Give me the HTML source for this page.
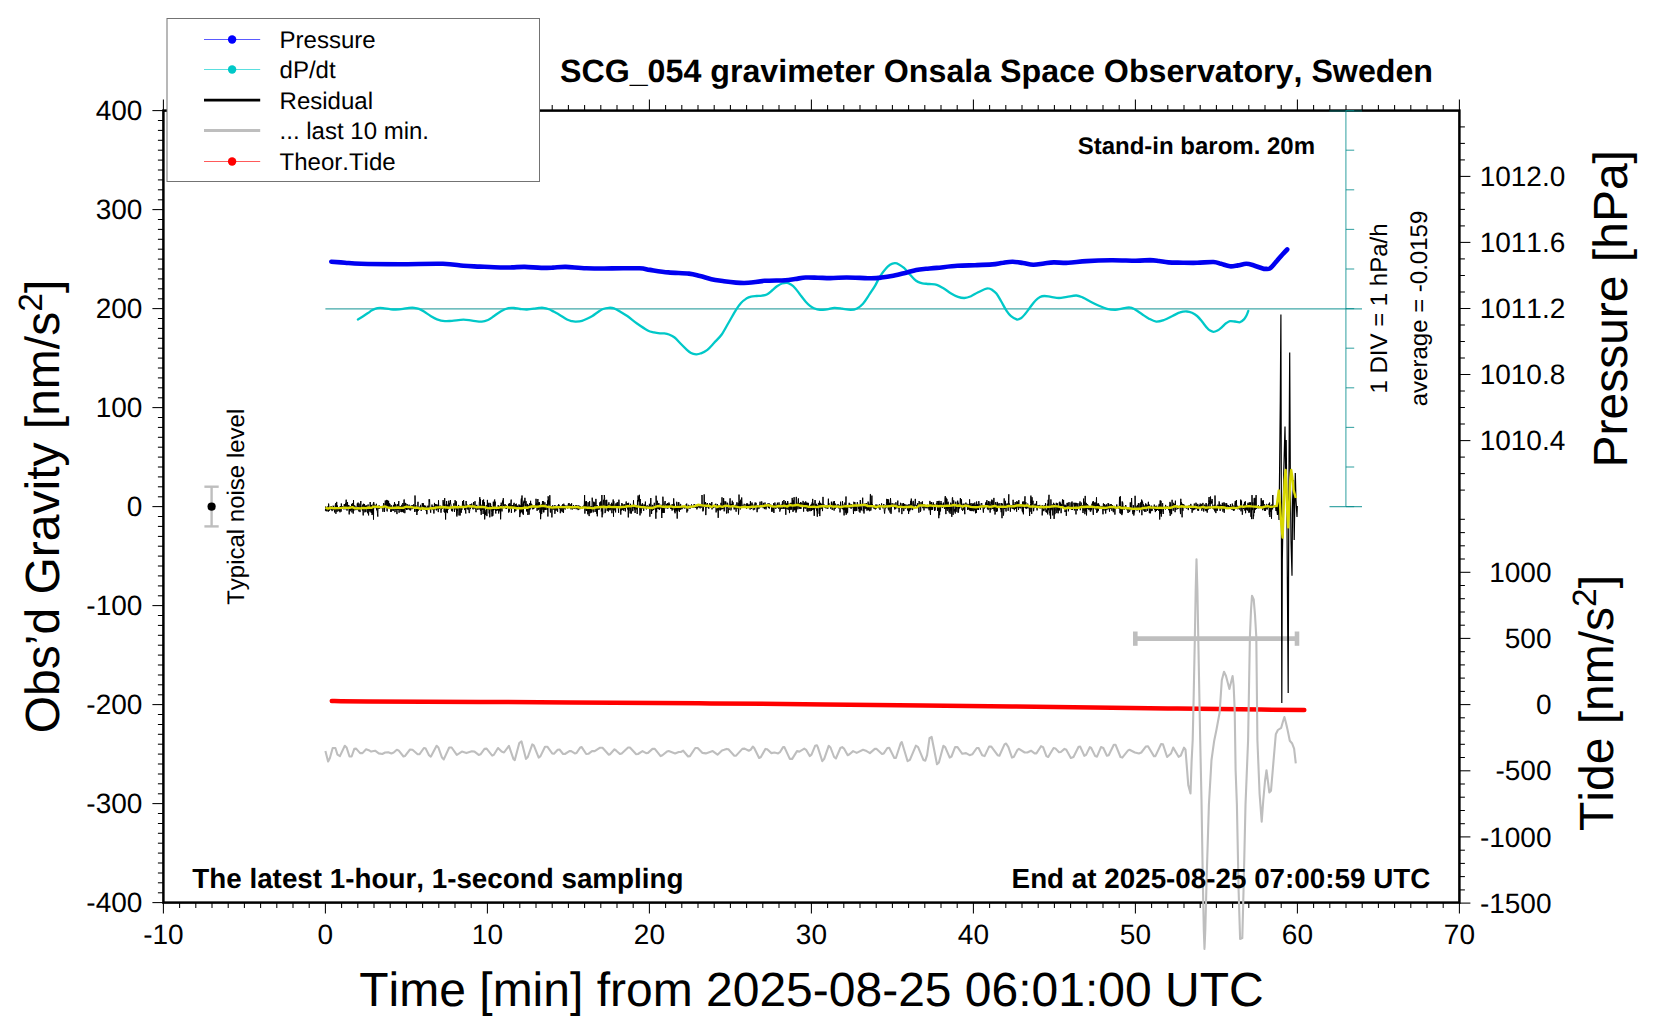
<!DOCTYPE html>
<html><head><meta charset="utf-8"><title>SCG_054 gravimeter</title>
<style>html,body{margin:0;padding:0;background:#fff}svg{display:block}text{font-family:"Liberation Sans",sans-serif;fill:#000;font-kerning:none;text-rendering:geometricPrecision}.b{font-weight:bold}</style></head><body>
<svg width="1660" height="1020" viewBox="0 0 1660 1020">
<rect width="1660" height="1020" fill="#fff"/>
<g stroke="#000" fill="none">
<rect x="163.4" y="110.6" width="1296" height="792" stroke-width="2.5"/>
</g><g stroke="#000" stroke-width="1.05" fill="none">
<line x1="163.4" y1="902.6" x2="163.4" y2="913.6"/>
<line x1="163.4" y1="110.6" x2="163.4" y2="99.6"/>
<line x1="179.6" y1="902.6" x2="179.6" y2="908.1"/>
<line x1="179.6" y1="110.6" x2="179.6" y2="105.1"/>
<line x1="195.8" y1="902.6" x2="195.8" y2="908.1"/>
<line x1="195.8" y1="110.6" x2="195.8" y2="105.1"/>
<line x1="212" y1="902.6" x2="212" y2="908.1"/>
<line x1="212" y1="110.6" x2="212" y2="105.1"/>
<line x1="228.2" y1="902.6" x2="228.2" y2="908.1"/>
<line x1="228.2" y1="110.6" x2="228.2" y2="105.1"/>
<line x1="244.4" y1="902.6" x2="244.4" y2="908.1"/>
<line x1="244.4" y1="110.6" x2="244.4" y2="105.1"/>
<line x1="260.6" y1="902.6" x2="260.6" y2="908.1"/>
<line x1="260.6" y1="110.6" x2="260.6" y2="105.1"/>
<line x1="276.8" y1="902.6" x2="276.8" y2="908.1"/>
<line x1="276.8" y1="110.6" x2="276.8" y2="105.1"/>
<line x1="293" y1="902.6" x2="293" y2="908.1"/>
<line x1="293" y1="110.6" x2="293" y2="105.1"/>
<line x1="309.2" y1="902.6" x2="309.2" y2="908.1"/>
<line x1="309.2" y1="110.6" x2="309.2" y2="105.1"/>
<line x1="325.4" y1="902.6" x2="325.4" y2="913.6"/>
<line x1="325.4" y1="110.6" x2="325.4" y2="99.6"/>
<line x1="341.6" y1="902.6" x2="341.6" y2="908.1"/>
<line x1="341.6" y1="110.6" x2="341.6" y2="105.1"/>
<line x1="357.8" y1="902.6" x2="357.8" y2="908.1"/>
<line x1="357.8" y1="110.6" x2="357.8" y2="105.1"/>
<line x1="374" y1="902.6" x2="374" y2="908.1"/>
<line x1="374" y1="110.6" x2="374" y2="105.1"/>
<line x1="390.2" y1="902.6" x2="390.2" y2="908.1"/>
<line x1="390.2" y1="110.6" x2="390.2" y2="105.1"/>
<line x1="406.4" y1="902.6" x2="406.4" y2="908.1"/>
<line x1="406.4" y1="110.6" x2="406.4" y2="105.1"/>
<line x1="422.6" y1="902.6" x2="422.6" y2="908.1"/>
<line x1="422.6" y1="110.6" x2="422.6" y2="105.1"/>
<line x1="438.8" y1="902.6" x2="438.8" y2="908.1"/>
<line x1="438.8" y1="110.6" x2="438.8" y2="105.1"/>
<line x1="455" y1="902.6" x2="455" y2="908.1"/>
<line x1="455" y1="110.6" x2="455" y2="105.1"/>
<line x1="471.2" y1="902.6" x2="471.2" y2="908.1"/>
<line x1="471.2" y1="110.6" x2="471.2" y2="105.1"/>
<line x1="487.4" y1="902.6" x2="487.4" y2="913.6"/>
<line x1="487.4" y1="110.6" x2="487.4" y2="99.6"/>
<line x1="503.6" y1="902.6" x2="503.6" y2="908.1"/>
<line x1="503.6" y1="110.6" x2="503.6" y2="105.1"/>
<line x1="519.8" y1="902.6" x2="519.8" y2="908.1"/>
<line x1="519.8" y1="110.6" x2="519.8" y2="105.1"/>
<line x1="536" y1="902.6" x2="536" y2="908.1"/>
<line x1="536" y1="110.6" x2="536" y2="105.1"/>
<line x1="552.2" y1="902.6" x2="552.2" y2="908.1"/>
<line x1="552.2" y1="110.6" x2="552.2" y2="105.1"/>
<line x1="568.4" y1="902.6" x2="568.4" y2="908.1"/>
<line x1="568.4" y1="110.6" x2="568.4" y2="105.1"/>
<line x1="584.6" y1="902.6" x2="584.6" y2="908.1"/>
<line x1="584.6" y1="110.6" x2="584.6" y2="105.1"/>
<line x1="600.8" y1="902.6" x2="600.8" y2="908.1"/>
<line x1="600.8" y1="110.6" x2="600.8" y2="105.1"/>
<line x1="617" y1="902.6" x2="617" y2="908.1"/>
<line x1="617" y1="110.6" x2="617" y2="105.1"/>
<line x1="633.2" y1="902.6" x2="633.2" y2="908.1"/>
<line x1="633.2" y1="110.6" x2="633.2" y2="105.1"/>
<line x1="649.4" y1="902.6" x2="649.4" y2="913.6"/>
<line x1="649.4" y1="110.6" x2="649.4" y2="99.6"/>
<line x1="665.6" y1="902.6" x2="665.6" y2="908.1"/>
<line x1="665.6" y1="110.6" x2="665.6" y2="105.1"/>
<line x1="681.8" y1="902.6" x2="681.8" y2="908.1"/>
<line x1="681.8" y1="110.6" x2="681.8" y2="105.1"/>
<line x1="698" y1="902.6" x2="698" y2="908.1"/>
<line x1="698" y1="110.6" x2="698" y2="105.1"/>
<line x1="714.2" y1="902.6" x2="714.2" y2="908.1"/>
<line x1="714.2" y1="110.6" x2="714.2" y2="105.1"/>
<line x1="730.4" y1="902.6" x2="730.4" y2="908.1"/>
<line x1="730.4" y1="110.6" x2="730.4" y2="105.1"/>
<line x1="746.6" y1="902.6" x2="746.6" y2="908.1"/>
<line x1="746.6" y1="110.6" x2="746.6" y2="105.1"/>
<line x1="762.8" y1="902.6" x2="762.8" y2="908.1"/>
<line x1="762.8" y1="110.6" x2="762.8" y2="105.1"/>
<line x1="779" y1="902.6" x2="779" y2="908.1"/>
<line x1="779" y1="110.6" x2="779" y2="105.1"/>
<line x1="795.2" y1="902.6" x2="795.2" y2="908.1"/>
<line x1="795.2" y1="110.6" x2="795.2" y2="105.1"/>
<line x1="811.4" y1="902.6" x2="811.4" y2="913.6"/>
<line x1="811.4" y1="110.6" x2="811.4" y2="99.6"/>
<line x1="827.6" y1="902.6" x2="827.6" y2="908.1"/>
<line x1="827.6" y1="110.6" x2="827.6" y2="105.1"/>
<line x1="843.8" y1="902.6" x2="843.8" y2="908.1"/>
<line x1="843.8" y1="110.6" x2="843.8" y2="105.1"/>
<line x1="860" y1="902.6" x2="860" y2="908.1"/>
<line x1="860" y1="110.6" x2="860" y2="105.1"/>
<line x1="876.2" y1="902.6" x2="876.2" y2="908.1"/>
<line x1="876.2" y1="110.6" x2="876.2" y2="105.1"/>
<line x1="892.4" y1="902.6" x2="892.4" y2="908.1"/>
<line x1="892.4" y1="110.6" x2="892.4" y2="105.1"/>
<line x1="908.6" y1="902.6" x2="908.6" y2="908.1"/>
<line x1="908.6" y1="110.6" x2="908.6" y2="105.1"/>
<line x1="924.8" y1="902.6" x2="924.8" y2="908.1"/>
<line x1="924.8" y1="110.6" x2="924.8" y2="105.1"/>
<line x1="941" y1="902.6" x2="941" y2="908.1"/>
<line x1="941" y1="110.6" x2="941" y2="105.1"/>
<line x1="957.2" y1="902.6" x2="957.2" y2="908.1"/>
<line x1="957.2" y1="110.6" x2="957.2" y2="105.1"/>
<line x1="973.4" y1="902.6" x2="973.4" y2="913.6"/>
<line x1="973.4" y1="110.6" x2="973.4" y2="99.6"/>
<line x1="989.6" y1="902.6" x2="989.6" y2="908.1"/>
<line x1="989.6" y1="110.6" x2="989.6" y2="105.1"/>
<line x1="1005.8" y1="902.6" x2="1005.8" y2="908.1"/>
<line x1="1005.8" y1="110.6" x2="1005.8" y2="105.1"/>
<line x1="1022" y1="902.6" x2="1022" y2="908.1"/>
<line x1="1022" y1="110.6" x2="1022" y2="105.1"/>
<line x1="1038.2" y1="902.6" x2="1038.2" y2="908.1"/>
<line x1="1038.2" y1="110.6" x2="1038.2" y2="105.1"/>
<line x1="1054.4" y1="902.6" x2="1054.4" y2="908.1"/>
<line x1="1054.4" y1="110.6" x2="1054.4" y2="105.1"/>
<line x1="1070.6" y1="902.6" x2="1070.6" y2="908.1"/>
<line x1="1070.6" y1="110.6" x2="1070.6" y2="105.1"/>
<line x1="1086.8" y1="902.6" x2="1086.8" y2="908.1"/>
<line x1="1086.8" y1="110.6" x2="1086.8" y2="105.1"/>
<line x1="1103" y1="902.6" x2="1103" y2="908.1"/>
<line x1="1103" y1="110.6" x2="1103" y2="105.1"/>
<line x1="1119.2" y1="902.6" x2="1119.2" y2="908.1"/>
<line x1="1119.2" y1="110.6" x2="1119.2" y2="105.1"/>
<line x1="1135.4" y1="902.6" x2="1135.4" y2="913.6"/>
<line x1="1135.4" y1="110.6" x2="1135.4" y2="99.6"/>
<line x1="1151.6" y1="902.6" x2="1151.6" y2="908.1"/>
<line x1="1151.6" y1="110.6" x2="1151.6" y2="105.1"/>
<line x1="1167.8" y1="902.6" x2="1167.8" y2="908.1"/>
<line x1="1167.8" y1="110.6" x2="1167.8" y2="105.1"/>
<line x1="1184" y1="902.6" x2="1184" y2="908.1"/>
<line x1="1184" y1="110.6" x2="1184" y2="105.1"/>
<line x1="1200.2" y1="902.6" x2="1200.2" y2="908.1"/>
<line x1="1200.2" y1="110.6" x2="1200.2" y2="105.1"/>
<line x1="1216.4" y1="902.6" x2="1216.4" y2="908.1"/>
<line x1="1216.4" y1="110.6" x2="1216.4" y2="105.1"/>
<line x1="1232.6" y1="902.6" x2="1232.6" y2="908.1"/>
<line x1="1232.6" y1="110.6" x2="1232.6" y2="105.1"/>
<line x1="1248.8" y1="902.6" x2="1248.8" y2="908.1"/>
<line x1="1248.8" y1="110.6" x2="1248.8" y2="105.1"/>
<line x1="1265" y1="902.6" x2="1265" y2="908.1"/>
<line x1="1265" y1="110.6" x2="1265" y2="105.1"/>
<line x1="1281.2" y1="902.6" x2="1281.2" y2="908.1"/>
<line x1="1281.2" y1="110.6" x2="1281.2" y2="105.1"/>
<line x1="1297.4" y1="902.6" x2="1297.4" y2="913.6"/>
<line x1="1297.4" y1="110.6" x2="1297.4" y2="99.6"/>
<line x1="1313.6" y1="902.6" x2="1313.6" y2="908.1"/>
<line x1="1313.6" y1="110.6" x2="1313.6" y2="105.1"/>
<line x1="1329.8" y1="902.6" x2="1329.8" y2="908.1"/>
<line x1="1329.8" y1="110.6" x2="1329.8" y2="105.1"/>
<line x1="1346" y1="902.6" x2="1346" y2="908.1"/>
<line x1="1346" y1="110.6" x2="1346" y2="105.1"/>
<line x1="1362.2" y1="902.6" x2="1362.2" y2="908.1"/>
<line x1="1362.2" y1="110.6" x2="1362.2" y2="105.1"/>
<line x1="1378.4" y1="902.6" x2="1378.4" y2="908.1"/>
<line x1="1378.4" y1="110.6" x2="1378.4" y2="105.1"/>
<line x1="1394.6" y1="902.6" x2="1394.6" y2="908.1"/>
<line x1="1394.6" y1="110.6" x2="1394.6" y2="105.1"/>
<line x1="1410.8" y1="902.6" x2="1410.8" y2="908.1"/>
<line x1="1410.8" y1="110.6" x2="1410.8" y2="105.1"/>
<line x1="1427" y1="902.6" x2="1427" y2="908.1"/>
<line x1="1427" y1="110.6" x2="1427" y2="105.1"/>
<line x1="1443.2" y1="902.6" x2="1443.2" y2="908.1"/>
<line x1="1443.2" y1="110.6" x2="1443.2" y2="105.1"/>
<line x1="1459.4" y1="902.6" x2="1459.4" y2="913.6"/>
<line x1="1459.4" y1="110.6" x2="1459.4" y2="99.6"/>
<line x1="163.4" y1="902.6" x2="152.4" y2="902.6"/>
<line x1="163.4" y1="892.8" x2="157.9" y2="892.8"/>
<line x1="163.4" y1="882.8" x2="157.9" y2="882.8"/>
<line x1="163.4" y1="873" x2="157.9" y2="873"/>
<line x1="163.4" y1="863" x2="157.9" y2="863"/>
<line x1="163.4" y1="853.1" x2="157.9" y2="853.1"/>
<line x1="163.4" y1="843.2" x2="157.9" y2="843.2"/>
<line x1="163.4" y1="833.3" x2="157.9" y2="833.3"/>
<line x1="163.4" y1="823.5" x2="157.9" y2="823.5"/>
<line x1="163.4" y1="813.5" x2="157.9" y2="813.5"/>
<line x1="163.4" y1="803.6" x2="152.4" y2="803.6"/>
<line x1="163.4" y1="793.8" x2="157.9" y2="793.8"/>
<line x1="163.4" y1="783.8" x2="157.9" y2="783.8"/>
<line x1="163.4" y1="774" x2="157.9" y2="774"/>
<line x1="163.4" y1="764" x2="157.9" y2="764"/>
<line x1="163.4" y1="754.1" x2="157.9" y2="754.1"/>
<line x1="163.4" y1="744.2" x2="157.9" y2="744.2"/>
<line x1="163.4" y1="734.3" x2="157.9" y2="734.3"/>
<line x1="163.4" y1="724.5" x2="157.9" y2="724.5"/>
<line x1="163.4" y1="714.5" x2="157.9" y2="714.5"/>
<line x1="163.4" y1="704.6" x2="152.4" y2="704.6"/>
<line x1="163.4" y1="694.8" x2="157.9" y2="694.8"/>
<line x1="163.4" y1="684.8" x2="157.9" y2="684.8"/>
<line x1="163.4" y1="675" x2="157.9" y2="675"/>
<line x1="163.4" y1="665" x2="157.9" y2="665"/>
<line x1="163.4" y1="655.1" x2="157.9" y2="655.1"/>
<line x1="163.4" y1="645.2" x2="157.9" y2="645.2"/>
<line x1="163.4" y1="635.3" x2="157.9" y2="635.3"/>
<line x1="163.4" y1="625.4" x2="157.9" y2="625.4"/>
<line x1="163.4" y1="615.5" x2="157.9" y2="615.5"/>
<line x1="163.4" y1="605.6" x2="152.4" y2="605.6"/>
<line x1="163.4" y1="595.8" x2="157.9" y2="595.8"/>
<line x1="163.4" y1="585.9" x2="157.9" y2="585.9"/>
<line x1="163.4" y1="575.9" x2="157.9" y2="575.9"/>
<line x1="163.4" y1="566" x2="157.9" y2="566"/>
<line x1="163.4" y1="556.1" x2="157.9" y2="556.1"/>
<line x1="163.4" y1="546.2" x2="157.9" y2="546.2"/>
<line x1="163.4" y1="536.4" x2="157.9" y2="536.4"/>
<line x1="163.4" y1="526.4" x2="157.9" y2="526.4"/>
<line x1="163.4" y1="516.5" x2="157.9" y2="516.5"/>
<line x1="163.4" y1="506.6" x2="152.4" y2="506.6"/>
<line x1="163.4" y1="496.8" x2="157.9" y2="496.8"/>
<line x1="163.4" y1="486.8" x2="157.9" y2="486.8"/>
<line x1="163.4" y1="476.9" x2="157.9" y2="476.9"/>
<line x1="163.4" y1="467" x2="157.9" y2="467"/>
<line x1="163.4" y1="457.1" x2="157.9" y2="457.1"/>
<line x1="163.4" y1="447.2" x2="157.9" y2="447.2"/>
<line x1="163.4" y1="437.3" x2="157.9" y2="437.3"/>
<line x1="163.4" y1="427.4" x2="157.9" y2="427.4"/>
<line x1="163.4" y1="417.5" x2="157.9" y2="417.5"/>
<line x1="163.4" y1="407.6" x2="152.4" y2="407.6"/>
<line x1="163.4" y1="397.8" x2="157.9" y2="397.8"/>
<line x1="163.4" y1="387.8" x2="157.9" y2="387.8"/>
<line x1="163.4" y1="377.9" x2="157.9" y2="377.9"/>
<line x1="163.4" y1="368" x2="157.9" y2="368"/>
<line x1="163.4" y1="358.1" x2="157.9" y2="358.1"/>
<line x1="163.4" y1="348.2" x2="157.9" y2="348.2"/>
<line x1="163.4" y1="338.3" x2="157.9" y2="338.3"/>
<line x1="163.4" y1="328.4" x2="157.9" y2="328.4"/>
<line x1="163.4" y1="318.5" x2="157.9" y2="318.5"/>
<line x1="163.4" y1="308.6" x2="152.4" y2="308.6"/>
<line x1="163.4" y1="298.8" x2="157.9" y2="298.8"/>
<line x1="163.4" y1="288.8" x2="157.9" y2="288.8"/>
<line x1="163.4" y1="278.9" x2="157.9" y2="278.9"/>
<line x1="163.4" y1="269" x2="157.9" y2="269"/>
<line x1="163.4" y1="259.1" x2="157.9" y2="259.1"/>
<line x1="163.4" y1="249.2" x2="157.9" y2="249.2"/>
<line x1="163.4" y1="239.3" x2="157.9" y2="239.3"/>
<line x1="163.4" y1="229.4" x2="157.9" y2="229.4"/>
<line x1="163.4" y1="219.5" x2="157.9" y2="219.5"/>
<line x1="163.4" y1="209.6" x2="152.4" y2="209.6"/>
<line x1="163.4" y1="199.8" x2="157.9" y2="199.8"/>
<line x1="163.4" y1="189.8" x2="157.9" y2="189.8"/>
<line x1="163.4" y1="179.9" x2="157.9" y2="179.9"/>
<line x1="163.4" y1="170" x2="157.9" y2="170"/>
<line x1="163.4" y1="160.1" x2="157.9" y2="160.1"/>
<line x1="163.4" y1="150.2" x2="157.9" y2="150.2"/>
<line x1="163.4" y1="140.3" x2="157.9" y2="140.3"/>
<line x1="163.4" y1="130.4" x2="157.9" y2="130.4"/>
<line x1="163.4" y1="120.5" x2="157.9" y2="120.5"/>
<line x1="163.4" y1="110.6" x2="152.4" y2="110.6"/>
<line x1="1459.4" y1="490.1" x2="1464.9" y2="490.1"/>
<line x1="1459.4" y1="473.6" x2="1464.9" y2="473.6"/>
<line x1="1459.4" y1="457.1" x2="1464.9" y2="457.1"/>
<line x1="1459.4" y1="440.6" x2="1470.4" y2="440.6"/>
<line x1="1459.4" y1="424" x2="1464.9" y2="424"/>
<line x1="1459.4" y1="407.5" x2="1464.9" y2="407.5"/>
<line x1="1459.4" y1="391" x2="1464.9" y2="391"/>
<line x1="1459.4" y1="374.5" x2="1470.4" y2="374.5"/>
<line x1="1459.4" y1="358" x2="1464.9" y2="358"/>
<line x1="1459.4" y1="341.5" x2="1464.9" y2="341.5"/>
<line x1="1459.4" y1="325" x2="1464.9" y2="325"/>
<line x1="1459.4" y1="308.5" x2="1470.4" y2="308.5"/>
<line x1="1459.4" y1="292" x2="1464.9" y2="292"/>
<line x1="1459.4" y1="275.5" x2="1464.9" y2="275.5"/>
<line x1="1459.4" y1="258.9" x2="1464.9" y2="258.9"/>
<line x1="1459.4" y1="242.4" x2="1470.4" y2="242.4"/>
<line x1="1459.4" y1="225.9" x2="1464.9" y2="225.9"/>
<line x1="1459.4" y1="209.4" x2="1464.9" y2="209.4"/>
<line x1="1459.4" y1="192.9" x2="1464.9" y2="192.9"/>
<line x1="1459.4" y1="176.4" x2="1470.4" y2="176.4"/>
<line x1="1459.4" y1="159.9" x2="1464.9" y2="159.9"/>
<line x1="1459.4" y1="143.4" x2="1464.9" y2="143.4"/>
<line x1="1459.4" y1="126.9" x2="1464.9" y2="126.9"/>
<line x1="1459.4" y1="903.1" x2="1470.4" y2="903.1"/>
<line x1="1459.4" y1="889.9" x2="1464.9" y2="889.9"/>
<line x1="1459.4" y1="876.6" x2="1464.9" y2="876.6"/>
<line x1="1459.4" y1="863.4" x2="1464.9" y2="863.4"/>
<line x1="1459.4" y1="850.2" x2="1464.9" y2="850.2"/>
<line x1="1459.4" y1="836.9" x2="1470.4" y2="836.9"/>
<line x1="1459.4" y1="823.7" x2="1464.9" y2="823.7"/>
<line x1="1459.4" y1="810.5" x2="1464.9" y2="810.5"/>
<line x1="1459.4" y1="797.2" x2="1464.9" y2="797.2"/>
<line x1="1459.4" y1="784" x2="1464.9" y2="784"/>
<line x1="1459.4" y1="770.8" x2="1470.4" y2="770.8"/>
<line x1="1459.4" y1="757.5" x2="1464.9" y2="757.5"/>
<line x1="1459.4" y1="744.3" x2="1464.9" y2="744.3"/>
<line x1="1459.4" y1="731.1" x2="1464.9" y2="731.1"/>
<line x1="1459.4" y1="717.8" x2="1464.9" y2="717.8"/>
<line x1="1459.4" y1="704.6" x2="1470.4" y2="704.6"/>
<line x1="1459.4" y1="691.4" x2="1464.9" y2="691.4"/>
<line x1="1459.4" y1="678.1" x2="1464.9" y2="678.1"/>
<line x1="1459.4" y1="664.9" x2="1464.9" y2="664.9"/>
<line x1="1459.4" y1="651.7" x2="1464.9" y2="651.7"/>
<line x1="1459.4" y1="638.4" x2="1470.4" y2="638.4"/>
<line x1="1459.4" y1="625.2" x2="1464.9" y2="625.2"/>
<line x1="1459.4" y1="612" x2="1464.9" y2="612"/>
<line x1="1459.4" y1="598.7" x2="1464.9" y2="598.7"/>
<line x1="1459.4" y1="585.5" x2="1464.9" y2="585.5"/>
<line x1="1459.4" y1="572.3" x2="1470.4" y2="572.3"/>
<line x1="1459.4" y1="559" x2="1464.9" y2="559"/>
<line x1="1459.4" y1="545.8" x2="1464.9" y2="545.8"/>
<line x1="1459.4" y1="532.6" x2="1464.9" y2="532.6"/>
<line x1="1459.4" y1="519.3" x2="1464.9" y2="519.3"/>
</g>
<line x1="325.4" y1="308.85" x2="1362" y2="308.85" stroke="rgb(0,139,139)" stroke-width="1.1" stroke-opacity=".75"/>
<path d="M357.9,319.5C358.6,319.1 360.3,318.1 362,317C363.7,315.9 366.3,314.1 368,313C369.7,311.9 370.4,311.1 372,310.3C373.6,309.5 375.6,308.6 377.4,308.2C379.2,307.8 380.9,307.9 383,308.1C385.1,308.3 387.9,309 390,309.2C392.1,309.4 393.6,309.6 395.8,309.5C398,309.4 400.8,309.1 403,308.8C405.2,308.5 407.1,308.1 409,307.9C410.9,307.7 412.5,307.6 414.2,307.8C415.9,308 417.4,308.2 419,308.8C420.6,309.4 422.1,310.3 424,311.5C425.9,312.7 428.4,314.7 430.6,316C432.8,317.3 434.6,318.4 437,319.3C439.4,320.2 442.4,320.9 444.9,321.1C447.4,321.4 448.9,321 452,320.8C455.1,320.6 460.1,319.7 463.4,319.7C466.7,319.7 468.9,320.3 472,320.6C475.1,320.9 479.1,321.7 481.8,321.6C484.5,321.5 485.9,320.9 488,320C490.1,319.1 491.9,317.5 494.1,316C496.3,314.5 498.6,312.5 501,311.2C503.4,309.9 506.2,308.7 508.4,308.2C510.6,307.7 512.1,307.9 514,308C515.9,308.1 517.9,308.8 520,309C522.1,309.2 524.6,309.6 526.9,309.5C529.2,309.4 532,309 534,308.7C536,308.4 537.5,308 539,307.9C540.5,307.8 541.6,307.6 543.3,307.8C545,308 547.2,308.6 549,309.3C550.8,310 552.2,310.9 554,311.8C555.8,312.8 557.5,313.7 559.7,315C561.9,316.3 565,318.5 567,319.5C569,320.5 570.5,320.8 572,321.2C573.5,321.6 574.3,321.7 576,321.6C577.7,321.5 580.2,321.3 582,320.8C583.8,320.3 585.3,319.6 587,318.8C588.7,318 590.6,317.1 592.4,316C594.2,314.9 596.2,313.2 598,312C599.8,310.8 601.2,309.7 603,309C604.8,308.3 607,307.9 608.8,307.8C610.6,307.7 612.1,307.7 614,308.3C615.9,308.9 617.8,310.2 620,311.5C622.2,312.8 624.5,314 627.3,316C630.1,318 633.6,321.1 637,323.5C640.4,325.9 644.9,328.9 647.7,330.4C650.5,331.9 652,331.9 654,332.4C656,332.9 658.3,333.2 660,333.4C661.7,333.6 662.8,333.2 664.3,333.4C665.8,333.6 667.3,333.8 669,334.5C670.7,335.2 672.8,336.1 674.6,337.5C676.4,338.9 678,340.9 680,343C682,345.1 685.1,348.1 686.9,349.8C688.7,351.5 689.5,352.2 691,353C692.5,353.8 694.4,354.2 696.1,354.3C697.8,354.4 699.1,354.1 701,353.3C702.9,352.6 705.2,351.5 707.4,349.8C709.6,348.1 711.6,345.6 714,343C716.4,340.4 719.2,338 721.7,334.5C724.2,331 726.6,326.1 729,322C731.4,317.9 734,313.1 736,309.9C738,306.7 739.3,304.9 741,303C742.7,301.1 744.6,299.7 746.3,298.6C748,297.6 749.3,297.1 751,296.7C752.7,296.3 754.7,296.2 756.5,296C758.3,295.8 760.3,295.9 762,295.6C763.7,295.4 765.1,295.4 766.8,294.5C768.5,293.6 770.3,291.9 772,290.5C773.7,289.1 775.3,287.5 777,286.3C778.7,285.1 780.3,284.1 782,283.5C783.7,282.9 785.7,282.6 787.2,282.8C788.7,283 789.6,283.6 791,284.5C792.4,285.4 793.9,286.7 795.4,288.4C796.9,290.1 798.3,292.3 800,294.5C801.7,296.7 804,299.8 805.7,301.7C807.4,303.6 808.6,304.7 810,305.8C811.4,306.9 812.2,307.5 813.9,308.2C815.6,308.9 817.8,309.7 820,309.9C822.2,310.1 824.6,309.6 827,309.3C829.4,309 831.9,307.9 834.4,307.8C836.9,307.7 839.3,308.2 842,308.6C844.7,309 848.2,309.9 850.7,309.9C853.2,309.9 855,309.5 857,308.5C859,307.5 861,305.9 863,303.7C865,301.4 867,298.1 869,295C871,291.9 873.5,288.4 875.3,285.3C877.1,282.2 878.3,279.2 880,276.5C881.7,273.8 883.8,270.8 885.5,268.9C887.2,266.9 888.5,265.8 890,264.8C891.5,263.9 893.3,263.3 894.8,263.2C896.3,263.1 897.5,263.6 899,264.4C900.5,265.2 902.3,266.4 904,267.9C905.7,269.4 907.3,271.6 909,273.5C910.7,275.4 912.7,277.8 914.2,279.2C915.7,280.6 916.6,281.2 918,281.9C919.4,282.6 920.6,282.9 922.4,283.3C924.2,283.7 926.6,283.7 929,284C931.4,284.3 934.5,284.2 936.8,284.9C939.1,285.6 940.6,286.6 943,288C945.4,289.4 948.6,292 951.1,293.5C953.6,295 955.8,296.1 958,296.8C960.2,297.6 962.2,298.1 964.4,298C966.6,297.9 968.8,297.1 971,296.2C973.2,295.3 975.5,293.6 977.7,292.5C979.9,291.4 982.2,290.2 984,289.5C985.8,288.8 986.9,288.3 988.2,288.4C989.5,288.4 990.6,288.9 992,289.8C993.4,290.7 994.9,291.6 996.4,293.5C997.9,295.4 999.3,298.1 1001,301C1002.7,303.9 1004.9,308.4 1006.6,310.9C1008.3,313.4 1009.3,314.8 1011,316.2C1012.7,317.6 1015.2,319.2 1016.9,319.5C1018.6,319.8 1019.6,319.1 1021,318.2C1022.4,317.3 1023.6,315.8 1025.1,314C1026.6,312.2 1028.3,309.7 1030,307.5C1031.7,305.3 1033.6,302.4 1035.3,300.7C1037,298.9 1038.5,297.8 1040,297C1041.5,296.2 1042.7,296 1044.5,296C1046.3,296 1048.6,296.6 1051,296.9C1053.4,297.2 1056.2,298 1058.9,298C1061.6,298 1064.1,297.2 1067,296.8C1069.9,296.4 1073.6,295.4 1076.3,295.5C1079,295.6 1080.6,296.6 1083,297.6C1085.4,298.6 1087.9,300.3 1090.6,301.7C1093.3,303.1 1096.3,304.6 1099,305.8C1101.7,307 1104.3,308.2 1107,308.9C1109.7,309.6 1112.7,309.9 1115.2,309.9C1117.7,309.8 1119.6,309 1122,308.6C1124.4,308.2 1127.3,307.2 1129.5,307.4C1131.7,307.5 1133,308.4 1135,309.5C1137,310.6 1139.5,312.5 1141.8,314C1144.1,315.5 1146.6,317.4 1149,318.7C1151.4,320 1153.7,321.4 1156.2,321.6C1158.7,321.8 1161.3,320.9 1164,320C1166.7,319.1 1169.8,317.3 1172.5,316C1175.2,314.7 1177.6,313.1 1180,312.4C1182.4,311.6 1184.9,311.4 1186.9,311.5C1188.9,311.6 1190.3,312.1 1192,312.8C1193.7,313.6 1195.4,314.6 1197.1,316C1198.8,317.4 1200.3,319.4 1202,321.5C1203.7,323.6 1206,326.8 1207.4,328.3C1208.8,329.9 1209.5,330.2 1210.5,330.8C1211.5,331.4 1212.3,331.9 1213.5,331.8C1214.7,331.8 1216.1,331.2 1217.5,330.5C1218.9,329.8 1220.3,328.5 1221.7,327.3C1223.1,326.1 1224.6,324.3 1226,323.3C1227.4,322.3 1228.4,321.4 1229.9,321.1C1231.4,320.8 1233.3,321.3 1235,321.5C1236.7,321.7 1238.6,322.6 1240.1,322.2C1241.6,321.8 1243.1,320.2 1244.2,319.1C1245.3,318 1245.8,316.9 1246.5,315.5C1247.2,314.1 1248,311.7 1248.3,310.9" fill="none" stroke="rgb(0,200,200)" stroke-width="2.3" stroke-linejoin="round" stroke-linecap="round"/>
<path d="M331.3,261.7C333.6,261.9 340.1,262.3 345,262.7C349.9,263.1 351.8,263.6 361,263.8C370.2,264.1 386.4,264.2 400,264.2C413.6,264.2 432.3,263.5 442.9,263.8C453.5,264.1 457.2,265.3 463.4,265.8C469.6,266.3 473.9,266.3 480,266.6C486.1,266.9 495,267.4 500.3,267.5C505.6,267.6 507.9,267.5 512,267.4C516.1,267.3 519.9,266.8 524.8,266.9C529.7,267 536.5,267.8 541.2,267.9C545.9,268 548.9,267.8 553,267.6C557.1,267.4 560.2,266.8 565.8,266.9C571.3,267 578.6,268.1 586.3,268.3C594,268.6 603.1,268.4 612,268.4C620.9,268.4 633.2,268.1 639.5,268.3C645.8,268.6 645.2,269.2 650,269.9C654.8,270.6 661.9,271.8 668.4,272.4C674.9,273 683.6,273 688.9,273.6C694.2,274.2 696.2,275.1 700,276C703.8,276.9 707.4,278.3 711.4,279.2C715.4,280.1 719.9,280.6 724,281.2C728.1,281.8 732,282.3 736,282.6C740,282.9 743.5,283.1 748.3,282.8C753.1,282.5 758.6,281.2 764.7,280.8C770.9,280.4 780.2,280.5 785.2,280.2C790.2,279.9 791.6,279.4 795,279C798.4,278.6 801.9,277.7 805.7,277.5C809.5,277.3 813.9,277.6 818,277.7C822.1,277.8 825.4,278.1 830.2,278.1C835,278.1 841.6,277.5 846.6,277.5C851.6,277.5 855.9,277.8 860,277.9C864.1,278 867.7,278.4 871.2,278.3C874.7,278.2 877.6,278 881,277.6C884.4,277.2 887.9,276.8 891.7,276.1C895.5,275.4 899.9,274.2 904,273.2C908.1,272.2 912.6,270.6 916.3,269.9C920,269.2 922.6,269.1 926,268.8C929.4,268.5 931.6,268.4 936.8,267.9C942,267.4 950.9,266.2 957.3,265.8C963.7,265.4 969.2,265.4 975,265.2C980.8,265 987.6,264.8 992.3,264.4C997,264 999.6,263.1 1003,262.7C1006.4,262.2 1009.5,261.6 1012.8,261.7C1016.1,261.8 1019.6,262.5 1023,263C1026.4,263.5 1029.8,264.7 1033.3,264.8C1036.8,264.9 1040.6,263.9 1044,263.5C1047.4,263.1 1049.7,262.5 1053.7,262.4C1057.7,262.3 1062.6,263 1068.1,262.8C1073.6,262.6 1079.3,261.5 1086.5,261.1C1093.7,260.7 1102.9,260.4 1111.1,260.3C1119.3,260.2 1129.2,260.7 1135.7,260.7C1142.2,260.7 1146.1,260.1 1150,260.1C1153.9,260.2 1155.9,260.6 1159,261C1162.1,261.4 1164.4,262.1 1168.4,262.4C1172.4,262.7 1178.2,262.6 1183,262.7C1187.8,262.8 1192,262.9 1197.1,262.8C1202.2,262.7 1209.5,261.8 1213.5,262C1217.5,262.2 1218.3,263.1 1221,263.8C1223.7,264.5 1227.1,266 1229.9,266.3C1232.7,266.6 1235.3,265.8 1238,265.4C1240.7,265 1243.6,263.8 1246.3,263.8C1249,263.8 1251.3,264.7 1254,265.5C1256.7,266.3 1260.7,267.9 1262.7,268.5C1264.7,269.1 1264.8,268.9 1266,268.9C1267.2,268.9 1268.6,269.1 1269.8,268.5C1271,267.9 1271.8,266.8 1273,265.5C1274.2,264.2 1275.5,262.4 1277,260.7C1278.5,258.9 1280.3,256.9 1282,255C1283.7,253.1 1286.3,250.4 1287.2,249.5" fill="none" stroke="rgb(0,0,240)" stroke-width="4.6" stroke-linejoin="round" stroke-linecap="round"/>
<path d="M331.8,700.9C337.8,701 328.1,701.1 368,701.4C407.9,701.6 513.8,702.1 571,702.4C628.2,702.7 668.7,703.1 711,703.4C753.3,703.7 789.7,704.1 825,704.4C860.3,704.7 891.8,705.1 923,705.4C954.2,705.7 983.7,706.1 1012,706.4C1040.3,706.7 1067,707.1 1093,707.4C1119,707.7 1143.5,708.1 1168,708.4C1192.5,708.7 1217.3,709 1240,709.3C1262.7,709.6 1293.6,709.9 1304.3,710" fill="none" stroke="rgb(255,0,0)" stroke-width="4.5" stroke-linecap="round"/>
<polyline points="325.4,751.1 328.1,761.6 329.9,758 332.7,748 335.4,748 337.5,754.7 339.9,756.1 344.8,745.8 346.6,747.5 349.5,756.5 351.6,756.5 354.3,748.9 356.1,748.6 360.1,753.1 362.5,753.1 366.1,749.3 368.8,750.2 371.1,751.6 375.1,750.7 378.7,753.4 382.3,754 385.1,752.5 388.3,752.2 391.4,753.4 393.7,752.5 396.8,749.8 398.6,750.4 403.5,756.5 404.9,756.1 410,749.5 412.5,749.8 417.6,754.3 419.4,754.3 423.9,748 425.7,748.6 429,755.2 430.8,756.7 436.6,745.8 438.4,747.5 442,757.6 443.8,759.4 449.2,747.5 451.6,747.5 456.8,754.9 459.2,753.4 461.9,751.6 466.4,753.1 471.8,751.3 474.5,751.6 478.7,754.9 480.5,754.3 484.5,748.9 486.6,748.6 492.2,755.6 493.9,754.7 498,748 501.6,751.6 504,752.5 508.9,745.8 513.4,758.9 514.8,760.1 519.3,743.1 521.5,741.3 526,758.9 527.8,757 532.3,744.4 533.8,745.3 538.7,757.6 540.5,756.1 545,746.7 547.3,746.7 552.2,753.4 554,753.8 557.7,749.8 559.5,749.5 563.1,754 564.9,754 569.4,751.1 571.2,751.1 574.8,753.4 576.6,752.9 580.2,747.5 581.7,747.1 586.2,754 588.4,753.8 592,751.1 594.7,751.1 600.1,747.7 602.5,747.7 608.8,754.7 610,754.3 614.5,749.3 616.3,750.7 619.9,754 621.7,753.4 628.1,747.5 629.9,747.5 636.2,754.3 638,754 642.5,751.1 646.1,753.1 648,752.9 652.5,748.9 654.8,748.9 660.6,756.1 662.4,755.2 666.9,751.6 668.7,751.1 675.1,753.4 678.7,752 680.8,752 683.2,750.7 688.1,756.5 689.9,756.1 695.3,748 697.7,748 702.5,752.9 705.8,753.4 712.7,751.1 717.5,754.7 722,750.4 724.2,749.8 726.6,748.9 728.4,749.3 734.3,755.8 736.1,755.6 742.3,748.9 744.6,748.6 748.8,750.7 750.6,749.8 752.8,746.6 754.2,748 759.1,758 760.9,757 765.4,748.9 767.2,749.3 771.4,753.1 774.5,752.5 778.1,753.4 779.9,752.2 783.1,747.1 784.4,747.1 789.8,758.9 792.2,758.9 797,751.1 799.4,751.6 804.3,748.6 806.1,749.8 809.7,756.1 811.5,754.7 815.1,745.8 816.9,745.3 817.8,747.1 822.3,761.2 824.2,758.9 828.7,745.8 830.5,747.5 834.1,757 835.9,758.5 840.4,748 842.2,747.1 844,748.6 847.7,755.2 849.5,754.3 853.1,751.1 856.7,752.9 863,749.8 866.6,751.1 869.9,753.1 874.8,748.9 876.6,748.9 882,754 883.8,753.4 887.4,748 889.2,747.7 894.3,758 895.9,758 900.6,743.5 901.8,742 907.6,761.2 909.9,759.8 915.9,745.7 918.1,747.1 923.5,760.1 925.3,760.7 927.1,755.2 929.5,738.1 931.6,736.8 937,764.3 938.9,762.5 943.4,745.8 945.2,747.1 949.7,757.6 951.5,756.5 955.1,747.1 957.5,747.1 962.3,753.8 966,753.1 969.6,755.2 972.3,754.3 976.8,748 978.6,748 982.2,755.2 984.6,756.1 989.1,746.6 991.3,746.6 997.6,755.2 999.4,755.8 1004.5,744.4 1006.1,743.5 1008.4,747.1 1012,757.6 1013.9,756.7 1017.5,749.8 1018.9,748.9 1024.7,752.5 1027.4,752.5 1031,750.7 1034.6,753.4 1036.4,753.4 1041,746.2 1043.1,747.1 1046.4,756.1 1048.2,757 1053.6,748 1055.4,748.4 1059,752.2 1060.8,752 1064.5,748.9 1066.3,749.8 1070.8,758 1073.5,757 1078.6,746.7 1080.2,746.6 1084.3,755.8 1086.1,754.9 1089.8,747.1 1091.2,748 1095.2,756.1 1097,756.7 1101,747.1 1103.3,748 1106.9,755.8 1108.7,755.2 1113.8,744.8 1115.6,744.8 1120.5,757 1122.3,757.6 1128.1,750.4 1129.5,749.8 1134.9,752.5 1138.9,753.4 1141.3,752.5 1145.8,746.6 1148,746.2 1153.9,756.1 1155.4,756.1 1161.1,744 1163,744.4 1167.1,757 1171,753.5 1173.2,747.6 1178.6,756.8 1180.8,755.5 1184,747.6 1185.5,749.7 1188.3,785.3 1190.5,793.5 1191.6,761.6 1192.7,740 1193.6,700 1194.8,640 1195.7,590 1196.5,559.4 1197.4,590 1198.5,650 1200.2,740 1201.5,800 1202.8,880 1203.8,930 1204.5,948.9 1205.3,930 1206.6,880 1208.9,804.7 1211.5,760 1214.2,740.7 1216.4,730 1219.6,712.7 1221.8,680.3 1224,671.7 1226,676 1229.4,688.9 1232.6,676 1233.6,685 1234.7,710 1235.6,770 1236.9,804.7 1238.6,890 1240.1,939 1242.3,938.1 1243.8,880 1245.5,804.7 1248.1,740 1249.9,637 1251,610 1252,595.7 1253.7,599.4 1255,615 1256.3,637 1257.4,740 1259.6,794 1261.7,821.6 1263.3,800 1265,781 1266.5,770.2 1267.9,781 1269.3,792.4 1271,790.7 1272.6,772 1273.6,760 1275.8,734.3 1277.9,730 1281.2,727.8 1282.8,722 1284.4,717 1286,723 1287.6,730 1289.8,740.7 1292,743.2 1294.1,748.6 1295.8,763.3" fill="none" stroke="rgb(190,190,190)" stroke-width="2.1" stroke-linejoin="round"/>
<g stroke="rgb(190,190,190)" fill="none"><line x1="1135.3" y1="638.6" x2="1297" y2="638.6" stroke-width="4.8"/><line x1="1135.3" y1="631.5" x2="1135.3" y2="645.8" stroke-width="4.6"/><line x1="1297" y1="631.5" x2="1297" y2="645.8" stroke-width="4.6"/></g>
<polyline points="325.4,510.6 325.7,506.6 325.9,511.1 326.2,510 326.5,510.5 326.8,509.3 327,511.4 327.3,509.1 327.6,506.6 327.8,507 328.1,508.3 328.4,511.6 328.6,503.6 328.9,506.5 329.2,510.9 329.4,508.6 329.7,508 330,507.8 330.3,506.6 330.5,508.1 330.8,506.9 331.1,509.8 331.3,506.2 331.6,506.9 331.9,506.7 332.1,511.1 332.4,507.6 332.7,506.9 333,506.5 333.2,505.7 333.5,506 333.8,510.1 334,508.9 334.3,508.2 334.6,512.4 334.9,509.7 335.1,506.1 335.4,504.4 335.7,503.2 335.9,513.8 336.2,505.3 336.5,507.7 336.7,501.9 337,511.9 337.3,505.5 337.6,509.1 337.8,507 338.1,510.9 338.4,509.4 338.6,507.1 338.9,508 339.2,511.3 339.4,510.9 339.7,507.7 340,512.3 340.2,506.2 340.5,507.1 340.8,506.6 341.1,511.6 341.3,503.5 341.6,506.3 341.9,507.7 342.1,507 342.4,507.8 342.7,506.1 343,506.9 343.2,508.4 343.5,508 343.8,509.3 344,507.1 344.3,504.1 344.6,507.8 344.8,508.9 345.1,509.3 345.4,507 345.6,503.3 345.9,504.5 346.2,499.7 346.5,506.5 346.7,506.3 347,510.6 347.3,505.6 347.5,502.1 347.8,507.5 348.1,507.7 348.4,505.1 348.6,508.4 348.9,505.2 349.2,514.4 349.4,507.1 349.7,511.6 350,506.5 350.2,511.1 350.5,506.6 350.8,508.4 351.1,510 351.3,509.9 351.6,503.9 351.9,512.4 352.1,510.4 352.4,507.6 352.7,503.2 352.9,504.2 353.2,513.6 353.5,500 353.8,510.7 354,510.5 354.3,508.1 354.6,505.3 354.8,505.6 355.1,510.1 355.4,509.9 355.6,507.4 355.9,506.5 356.2,509 356.4,507.4 356.7,508.2 357,510.1 357.3,503.5 357.5,506.4 357.8,504.5 358.1,502.6 358.3,508.8 358.6,506.4 358.9,511.4 359.1,503.6 359.4,508.6 359.7,509 360,512.1 360.2,509.4 360.5,508.7 360.8,501 361,509 361.3,508.2 361.6,508.5 361.9,506.7 362.1,508.5 362.4,510.5 362.7,504.7 362.9,507.4 363.2,515.4 363.5,503.8 363.7,503.8 364,508.9 364.3,505.6 364.5,504 364.8,512.3 365.1,512.2 365.4,505.6 365.6,509.8 365.9,511.9 366.2,506.2 366.4,508.9 366.7,505.3 367,506 367.2,510.1 367.5,513.2 367.8,508.7 368.1,504.5 368.3,513 368.6,515.4 368.9,506.8 369.1,507.4 369.4,508.8 369.7,510.8 369.9,511.7 370.2,502 370.5,511.3 370.8,505.5 371,511.5 371.3,513 371.6,504.9 371.8,507.1 372.1,515 372.4,508.2 372.6,508.1 372.9,514.1 373.2,503.7 373.5,519.6 373.7,502.1 374,504.8 374.3,504.7 374.5,506.4 374.8,505.3 375.1,508.2 375.4,507.7 375.6,505.2 375.9,507.3 376.2,504.8 376.4,503.8 376.7,510.3 377,507 377.2,509.7 377.5,513.8 377.8,516.6 378,507.3 378.3,507.5 378.6,506.6 378.9,509 379.1,505.4 379.4,507.6 379.7,508.6 379.9,506.6 380.2,507.9 380.5,506.6 380.8,507.3 381,507.5 381.3,507.6 381.6,506.7 381.8,507.5 382.1,508.3 382.4,505.9 382.6,506.2 382.9,511.8 383.2,508.7 383.5,506.1 383.7,503.1 384,504.5 384.3,506.6 384.5,511.9 384.8,506.7 385.1,503.8 385.3,500.5 385.6,507.3 385.9,507.8 386.1,506.6 386.4,504.1 386.7,499.9 387,511 387.2,511.4 387.5,500.4 387.8,504.8 388,507.1 388.3,507.6 388.6,500.8 388.9,507.4 389.1,507.2 389.4,503.4 389.7,507.1 389.9,503.9 390.2,508.3 390.5,506.5 390.7,511.9 391,508.9 391.3,505.3 391.5,511.6 391.8,510 392.1,510.3 392.4,509.4 392.6,508.9 392.9,506.8 393.2,511 393.4,504.9 393.7,506.7 394,507.2 394.2,508.8 394.5,502.1 394.8,512.2 395.1,512 395.3,510.4 395.6,503.9 395.9,504.8 396.1,505.1 396.4,510.4 396.7,511.8 397,514.1 397.2,507.1 397.5,504.3 397.8,506.2 398,510 398.3,506.4 398.6,502.8 398.8,501.1 399.1,512.7 399.4,505.9 399.6,508.3 399.9,508.5 400.2,506 400.5,507.3 400.7,510.2 401,512 401.3,506.3 401.5,512.1 401.8,504.8 402.1,511 402.4,510.2 402.6,511.8 402.9,503 403.2,510.2 403.4,512.5 403.7,507 404,499.6 404.2,499.5 404.5,508.4 404.8,513.2 405.1,510.5 405.3,502.9 405.6,509 405.9,503.6 406.1,506.3 406.4,507.7 406.7,510 406.9,507.5 407.2,504.2 407.5,505.5 407.8,509.6 408,509.2 408.3,507.2 408.6,509 408.8,505.8 409.1,504.7 409.4,509.6 409.6,508 409.9,507.1 410.2,510.4 410.4,506.6 410.7,510.2 411,506.3 411.3,505.4 411.5,508.2 411.8,508.1 412.1,507.4 412.3,509.1 412.6,505.3 412.9,508.2 413.1,507.5 413.4,506.8 413.7,504.3 414,505.5 414.2,508.4 414.5,508.6 414.8,512 415,495.5 415.3,504.5 415.6,509.1 415.8,505.1 416.1,511.4 416.4,508.3 416.7,510.3 416.9,515 417.2,508.1 417.5,511.5 417.7,505.5 418,501.8 418.3,510.7 418.5,507.6 418.8,508.6 419.1,507.3 419.4,507.9 419.6,509.7 419.9,506.7 420.2,507.5 420.4,505.9 420.7,504.8 421,508.3 421.2,510.9 421.5,508.7 421.8,508 422.1,507 422.3,503.1 422.6,506 422.9,505.3 423.1,506.9 423.4,503.3 423.7,508.2 423.9,508.1 424.2,509.7 424.5,505.6 424.8,507.7 425,505.6 425.3,507.1 425.6,506.1 425.8,505.9 426.1,510.8 426.4,507.6 426.6,512 426.9,514.2 427.2,510.3 427.5,509.9 427.7,505.8 428,505.7 428.3,505.8 428.5,507.5 428.8,507.8 429.1,499.3 429.4,501.8 429.6,499.6 429.9,508.8 430.2,507.5 430.4,510.9 430.7,512.7 431,507.8 431.2,508.5 431.5,508.9 431.8,508.2 432,504.6 432.3,508.7 432.6,509.4 432.9,506.2 433.1,507.1 433.4,510.3 433.7,508.9 433.9,513.5 434.2,507.1 434.5,502.9 434.8,509.5 435,506.5 435.3,505.8 435.6,504.1 435.8,506 436.1,507.6 436.4,510.4 436.6,504.5 436.9,505.9 437.2,504.7 437.5,507.4 437.7,509.3 438,507.4 438.3,512.1 438.5,500.3 438.8,509.2 439.1,508 439.3,508.9 439.6,508.2 439.9,508 440.1,505.6 440.4,507.2 440.7,506.4 441,512.7 441.2,509 441.5,509.5 441.8,506.3 442,506.3 442.3,508.8 442.6,506 442.9,507.7 443.1,500.1 443.4,505.1 443.7,505.6 443.9,502.2 444.2,512 444.5,506.1 444.7,498.1 445,513 445.3,510.4 445.6,519.5 445.8,512.2 446.1,504.2 446.4,512 446.6,501 446.9,511.9 447.2,512.9 447.4,513.1 447.7,504.7 448,508.7 448.2,509.5 448.5,507.7 448.8,500.7 449.1,508.1 449.3,506.5 449.6,503.2 449.9,504.1 450.1,504.4 450.4,500 450.7,503.7 451,504.5 451.2,508.1 451.5,510.7 451.8,509.2 452,509.2 452.3,511.5 452.6,508.5 452.8,508.3 453.1,506.1 453.4,505.6 453.6,505.5 453.9,503.3 454.2,509.6 454.5,511.9 454.7,508.1 455,500.1 455.3,500.7 455.5,505.8 455.8,508.7 456.1,509.6 456.4,501.4 456.6,515.9 456.9,516.5 457.2,515.4 457.4,511.9 457.7,507.7 458,506.3 458.2,506.5 458.5,505 458.8,505.1 459,515.4 459.3,509 459.6,506.8 459.9,512.6 460.1,515.5 460.4,510.7 460.7,511.6 460.9,507 461.2,512.8 461.5,508.6 461.8,509.9 462,509.6 462.3,505.8 462.6,501.2 462.8,506.2 463.1,501.6 463.4,506.7 463.6,500.1 463.9,505.8 464.2,504.8 464.5,510 464.7,509.9 465,508.8 465.3,506.1 465.5,511.9 465.8,513.5 466.1,501 466.3,507.4 466.6,504.7 466.9,504.3 467.1,508.9 467.4,506.8 467.7,506.9 468,509.8 468.2,509.3 468.5,505.6 468.8,506.3 469,512.4 469.3,513.1 469.6,511.2 469.8,510 470.1,504.2 470.4,508.9 470.7,504.7 470.9,506.3 471.2,507.1 471.5,504.5 471.7,503.6 472,506.7 472.3,507.5 472.6,506.8 472.8,509 473.1,509.4 473.4,503 473.6,502 473.9,507 474.2,508.6 474.4,507.3 474.7,507 475,501.2 475.2,508.2 475.5,507.2 475.8,510.6 476.1,512.2 476.3,505 476.6,505.2 476.9,504.9 477.1,509.3 477.4,507.1 477.7,509.7 477.9,508.8 478.2,508.2 478.5,506.1 478.8,508.2 479,509.5 479.3,501.7 479.6,501.3 479.8,497.2 480.1,509.4 480.4,499.3 480.6,510.8 480.9,509.2 481.2,514.8 481.5,508.2 481.7,508.4 482,504.7 482.3,509.9 482.5,504.7 482.8,500.2 483.1,514 483.4,510.3 483.6,499.5 483.9,505.7 484.2,506.1 484.4,502.2 484.7,519.4 485,510.2 485.2,515.1 485.5,512.1 485.8,513.9 486,514.5 486.3,505.2 486.6,511 486.9,516.1 487.1,510.1 487.4,499.9 487.7,507.2 487.9,503.9 488.2,509.5 488.5,506 488.8,502.8 489,513.4 489.3,513.5 489.6,509.3 489.8,517.3 490.1,502.9 490.4,507.6 490.6,503.8 490.9,507.5 491.2,510.3 491.5,506.1 491.7,512.7 492,516.5 492.3,513.1 492.5,507 492.8,515.9 493.1,513.1 493.3,501.7 493.6,510.4 493.9,502.3 494.1,509.8 494.4,500 494.7,499.5 495,505.1 495.2,501.7 495.5,511.5 495.8,513.5 496,509.3 496.3,511 496.6,510.3 496.9,510.4 497.1,508.5 497.4,510.4 497.7,508.6 497.9,509.2 498.2,505.1 498.5,507 498.7,513.5 499,506.4 499.3,510.4 499.5,510.5 499.8,506.1 500.1,511.5 500.4,505.2 500.6,519.3 500.9,510.9 501.2,502.7 501.4,507 501.7,508.4 502,511.4 502.2,507.5 502.5,500.6 502.8,503.2 503.1,500.9 503.3,498.2 503.6,505.9 503.9,504.4 504.1,506.6 504.4,506.6 504.7,506.6 505,504.2 505.2,504.3 505.5,508.2 505.8,508.6 506,506.7 506.3,505.3 506.6,509 506.8,506 507.1,507 507.4,506.3 507.6,507.1 507.9,506.6 508.2,507.4 508.5,503.8 508.7,512.6 509,509.2 509.3,511.5 509.5,503.2 509.8,503.7 510.1,508.7 510.3,507.9 510.6,505 510.9,502.8 511.2,499.6 511.4,512.9 511.7,505.4 512,507.7 512.2,507.9 512.5,505.3 512.8,508 513.1,505.6 513.3,508.2 513.6,504.1 513.9,504 514.1,502.8 514.4,507.9 514.7,512.2 514.9,505.7 515.2,504 515.5,504.4 515.8,510.9 516,504.2 516.3,503.7 516.6,507.9 516.8,506.4 517.1,507.6 517.4,505.6 517.6,507.8 517.9,507.3 518.2,507.3 518.4,508.8 518.7,507.8 519,504.4 519.3,507.8 519.5,505.4 519.8,517.1 520.1,513.6 520.3,505.4 520.6,513.3 520.9,511.6 521.1,500.4 521.4,498.4 521.7,512.2 522,495.5 522.2,508.4 522.5,511 522.8,513.6 523,503.7 523.3,514.8 523.6,501.7 523.9,508.3 524.1,500.6 524.4,502.4 524.7,503 524.9,497.8 525.2,502.1 525.5,506.9 525.7,506 526,501.1 526.3,503.9 526.5,511 526.8,508.4 527.1,511.9 527.4,509 527.6,503.9 527.9,515 528.2,506.5 528.4,505.3 528.7,507.3 529,514.4 529.2,514.6 529.5,503.3 529.8,510.1 530.1,505.8 530.3,508.3 530.6,500.8 530.9,508.3 531.1,503.6 531.4,506.2 531.7,504.3 532,504.8 532.2,505.1 532.5,507.8 532.8,509.4 533,507.7 533.3,505.6 533.6,509 533.8,507.2 534.1,508.3 534.4,505.6 534.6,508 534.9,506.9 535.2,507.1 535.5,504.7 535.7,505.1 536,498.8 536.3,501.6 536.5,507.7 536.8,503.2 537.1,510.8 537.4,502.8 537.6,502.6 537.9,499 538.2,509.8 538.4,509.7 538.7,502.2 539,508.8 539.2,507.1 539.5,502.3 539.8,506.1 540,512.7 540.3,506.9 540.6,519.2 540.9,513.7 541.1,507.8 541.4,504.5 541.7,513.9 541.9,505.6 542.2,507.3 542.5,501 542.8,509.7 543,503 543.3,512.1 543.6,501.3 543.8,512.4 544.1,505.6 544.4,509.9 544.6,508.9 544.9,502.3 545.2,509.4 545.5,507.4 545.7,510 546,506.8 546.3,507.6 546.5,504.4 546.8,505.9 547.1,509.9 547.3,507.7 547.6,500.5 547.9,516.5 548.1,496.3 548.4,498.2 548.7,504.4 549,501.1 549.2,505.6 549.5,504.5 549.8,495.2 550,500.4 550.3,512.4 550.6,512.5 550.8,507.5 551.1,506 551.4,508.7 551.7,506.5 551.9,517.4 552.2,507.7 552.5,508.5 552.7,505.3 553,509.3 553.3,507.6 553.6,507.7 553.8,509.6 554.1,509.1 554.4,505.5 554.6,505.3 554.9,513.8 555.2,508.6 555.4,505.6 555.7,506.4 556,510.8 556.2,505.9 556.5,508.6 556.8,507.5 557.1,509.9 557.3,508 557.6,511.8 557.9,505.5 558.1,506.2 558.4,507.8 558.7,504.2 558.9,505.9 559.2,505.2 559.5,508.7 559.8,508.7 560,507.1 560.3,513.2 560.6,508.6 560.8,506.9 561.1,511 561.4,505.7 561.6,507.4 561.9,508.8 562.2,512.2 562.5,505 562.7,504.2 563,504.9 563.3,509.3 563.5,512.9 563.8,503.7 564.1,507.7 564.4,506.4 564.6,508.9 564.9,505.1 565.2,509.5 565.4,508.8 565.7,506 566,507.5 566.2,506.6 566.5,506.6 566.8,506.7 567,505.5 567.3,507 567.6,508.4 567.9,507.7 568.1,506.1 568.4,503.6 568.7,508.1 568.9,503.3 569.2,503 569.5,507.9 569.8,505.7 570,504.8 570.3,508.1 570.6,504.5 570.8,509.2 571.1,508.9 571.4,506.9 571.6,503.3 571.9,506.9 572.2,509.6 572.4,506.7 572.7,507.4 573,508.7 573.3,507.3 573.5,505.1 573.8,508.6 574.1,508 574.3,507.6 574.6,508.8 574.9,506.3 575.1,506.7 575.4,505.4 575.7,508.2 576,505.8 576.2,509.2 576.5,505.2 576.8,508.2 577,507.1 577.3,508.7 577.6,506.6 577.9,505.5 578.1,510.1 578.4,505.7 578.7,507.2 578.9,509.5 579.2,508.2 579.5,505.8 579.7,508.7 580,509.1 580.3,507.3 580.5,506.4 580.8,507.3 581.1,507.6 581.4,507.6 581.6,507.2 581.9,508.8 582.2,507.3 582.4,506.9 582.7,506.5 583,507.7 583.2,507.2 583.5,506.9 583.8,507.7 584.1,504.9 584.3,505.7 584.6,495.1 584.9,513.6 585.1,505 585.4,501.4 585.7,508.5 585.9,506.8 586.2,510.8 586.5,501 586.8,511 587,506.7 587.3,505.9 587.6,509.3 587.8,514.3 588.1,502.2 588.4,508.6 588.6,512.9 588.9,514.6 589.2,516.1 589.5,501.6 589.7,501 590,513.3 590.3,508.4 590.5,506.2 590.8,512.6 591.1,507 591.4,512.5 591.6,506.1 591.9,510.7 592.2,497.7 592.4,500.8 592.7,500.8 593,503 593.2,512.4 593.5,502.3 593.8,506.6 594,501.8 594.3,506.2 594.6,504.9 594.9,502.5 595.1,512 595.4,507.4 595.7,506.3 595.9,498.9 596.2,504.6 596.5,511.1 596.8,513.7 597,505 597.3,516.3 597.6,507.7 597.8,508 598.1,509.9 598.4,508.2 598.6,508.8 598.9,508.5 599.2,508.6 599.5,509.4 599.7,502.4 600,502.8 600.3,506.6 600.5,501.7 600.8,501.8 601.1,501.4 601.3,511.4 601.6,510.4 601.9,495 602.1,517.3 602.4,505.6 602.7,514.4 603,505.4 603.2,502.8 603.5,499.8 603.8,505.1 604,506.5 604.3,495 604.6,497.4 604.9,505.6 605.1,513.1 605.4,510.7 605.7,511.2 605.9,500.1 606.2,507.4 606.5,506.7 606.7,499.8 607,507.1 607.3,510.8 607.5,506.9 607.8,504.6 608.1,508.9 608.4,511.5 608.6,505.4 608.9,502.3 609.2,506.9 609.4,508.2 609.7,510 610,510.4 610.2,504.4 610.5,509.5 610.8,508.6 611.1,506.2 611.3,508.8 611.6,502.8 611.9,513.2 612.1,504.3 612.4,504.1 612.7,509.5 612.9,504.5 613.2,499.5 613.5,516.7 613.8,501.2 614,510.5 614.3,510.2 614.6,507 614.8,505.7 615.1,504.7 615.4,506.4 615.6,512.4 615.9,503.4 616.2,505.1 616.5,507 616.7,505.1 617,502.6 617.3,507.2 617.5,503.5 617.8,502.2 618.1,507.1 618.4,510 618.6,512.8 618.9,499.7 619.2,506.4 619.4,506.4 619.7,507 620,505.7 620.2,507.3 620.5,509.1 620.8,514.6 621,507.1 621.3,510.5 621.6,506 621.9,503 622.1,510.1 622.4,509.5 622.7,504.3 622.9,508.3 623.2,509.5 623.5,505.8 623.8,510.8 624,504.4 624.3,509 624.6,508.2 624.8,504.2 625.1,505 625.4,511.4 625.6,507.7 625.9,504.6 626.2,501.5 626.4,505.3 626.7,507.5 627,504.6 627.3,503.1 627.5,509.4 627.8,504.7 628.1,507.2 628.3,517.4 628.6,502.8 628.9,510.8 629.1,506.5 629.4,508.2 629.7,505.4 630,506 630.2,513.4 630.5,503.8 630.8,505.5 631,510.2 631.3,513.6 631.6,510.7 631.9,510 632.1,506.4 632.4,508.2 632.7,511.1 632.9,511.2 633.2,507.9 633.5,500.3 633.7,506.7 634,507.6 634.3,504.9 634.5,509.5 634.8,506.9 635.1,513 635.4,507.5 635.6,508.2 635.9,506.6 636.2,505.9 636.4,507.7 636.7,509.4 637,505.1 637.2,514 637.5,500.2 637.8,506.9 638.1,495.5 638.3,501 638.6,500.2 638.9,497.1 639.1,501.9 639.4,494.8 639.7,502.9 640,515.4 640.2,499 640.5,511.2 640.8,508 641,513.3 641.3,511.2 641.6,504.7 641.8,504.3 642.1,504.2 642.4,503.3 642.6,508.4 642.9,506.8 643.2,505.8 643.5,506.5 643.7,510.8 644,504.4 644.3,506.1 644.5,504.9 644.8,507.9 645.1,505.5 645.4,501.6 645.6,506.3 645.9,505.6 646.2,509.1 646.4,509.4 646.7,506 647,505.9 647.2,506.2 647.5,505.6 647.8,505.5 648,508.1 648.3,506.1 648.6,506.8 648.9,508.2 649.1,508 649.4,503.8 649.7,507.3 649.9,516.7 650.2,507.4 650.5,504.9 650.8,498 651,503.3 651.3,507 651.6,513.9 651.8,507.1 652.1,511 652.4,504.9 652.6,507.2 652.9,507.3 653.2,506.1 653.4,510.1 653.7,505.7 654,504.4 654.3,502.8 654.5,503.2 654.8,507.1 655.1,509.6 655.3,506.7 655.6,508.6 655.9,518.7 656.1,495.7 656.4,507.9 656.7,512.3 657,500.6 657.2,502.1 657.5,501.1 657.8,508.8 658,505.3 658.3,507.6 658.6,509.1 658.8,503 659.1,506 659.4,509.9 659.7,505.4 659.9,508.7 660.2,507.8 660.5,505.9 660.7,504.8 661,505.9 661.3,505.6 661.5,511.1 661.8,518 662.1,504.8 662.4,512.9 662.6,509.1 662.9,496.7 663.2,501.9 663.4,505.4 663.7,512.9 664,509.2 664.2,512.9 664.5,504.4 664.8,503 665.1,501 665.3,505.6 665.6,508.1 665.9,506.4 666.1,508.3 666.4,503.9 666.7,506.2 666.9,505.1 667.2,505.4 667.5,503.2 667.8,508.7 668,503.9 668.3,504 668.6,506.6 668.8,502.6 669.1,502.6 669.4,505.5 669.6,504 669.9,506.8 670.2,505.4 670.5,506.9 670.7,508.8 671,507.1 671.3,508.5 671.5,509 671.8,504.6 672.1,510.6 672.4,504.4 672.6,504.5 672.9,509.8 673.2,508.2 673.4,508.1 673.7,498.4 674,507.2 674.2,503.8 674.5,512 674.8,506.8 675,513.3 675.3,511.4 675.6,506.3 675.9,509.7 676.1,508.1 676.4,511.3 676.7,501.8 676.9,506.6 677.2,518.6 677.5,505.6 677.8,506.8 678,510.6 678.3,502.5 678.6,508.6 678.8,502.2 679.1,509.9 679.4,511.8 679.6,505.6 679.9,505.8 680.2,509.9 680.4,503.9 680.7,504.3 681,509.3 681.3,506.4 681.5,506.8 681.8,506.6 682.1,509.2 682.3,506.5 682.6,505.9 682.9,507.8 683.1,506.5 683.4,507.8 683.7,508.1 684,507.3 684.2,507 684.5,508.4 684.8,507.9 685,506.8 685.3,505.9 685.6,505.9 685.8,508.3 686.1,504.4 686.4,505.8 686.7,503.6 686.9,512.5 687.2,506.6 687.5,508.2 687.7,511.1 688,506.7 688.3,504.8 688.6,505.7 688.8,505.9 689.1,508.3 689.4,508.4 689.6,505.7 689.9,505.6 690.2,506 690.4,508.4 690.7,506.2 691,507.1 691.2,505.6 691.5,504.4 691.8,505.9 692.1,506.9 692.3,506.6 692.6,506.2 692.9,508 693.1,507.1 693.4,506.7 693.7,507.2 693.9,505 694.2,504 694.5,505.9 694.8,506.8 695,507.6 695.3,504.9 695.6,507.6 695.8,506.2 696.1,506.7 696.4,504.8 696.6,506.5 696.9,509.4 697.2,506.7 697.5,508.1 697.7,507.1 698,507.4 698.3,506.6 698.5,505.7 698.8,507.4 699.1,507 699.3,505.9 699.6,506.7 699.9,508.2 700.2,508.3 700.4,506.8 700.7,506 701,504.9 701.2,506.3 701.5,507.4 701.8,507.7 702,495 702.3,506.6 702.6,504.5 702.9,511.4 703.1,508.4 703.4,510.4 703.7,504.9 703.9,505.7 704.2,494.4 704.5,507 704.8,503.2 705,503.7 705.3,503.3 705.6,502.1 705.8,515.1 706.1,507.4 706.4,503.8 706.6,506.6 706.9,507.7 707.2,505 707.4,503 707.7,506.2 708,505.5 708.3,505.5 708.5,506.9 708.8,508.7 709.1,506.2 709.3,506.8 709.6,503.3 709.9,506.5 710.1,506.5 710.4,505.2 710.7,503.7 711,507.5 711.2,505.4 711.5,507.2 711.8,502 712,509.4 712.3,506.3 712.6,506.7 712.9,506.3 713.1,506.3 713.4,505.4 713.7,508.1 713.9,507.5 714.2,507.2 714.5,506.3 714.7,506.1 715,505.6 715.3,504.2 715.5,507 715.8,503.7 716.1,512.4 716.4,508.6 716.6,508.9 716.9,509.5 717.2,510.6 717.4,504.1 717.7,509.4 718,508.2 718.2,517.8 718.5,506.1 718.8,505.6 719.1,506.8 719.3,507.7 719.6,505.9 719.9,510.3 720.1,505.6 720.4,510.3 720.7,506.3 721,502.8 721.2,504.5 721.5,508.1 721.8,509.5 722,497.3 722.3,509 722.6,505 722.8,506.5 723.1,508.9 723.4,508.1 723.6,498.1 723.9,503.8 724.2,511.3 724.5,506.5 724.7,506.3 725,501.2 725.3,506 725.5,502 725.8,501.7 726.1,502.6 726.3,509.7 726.6,513.5 726.9,509.8 727.2,506.7 727.4,502.8 727.7,502.9 728,511.2 728.2,513.2 728.5,509.3 728.8,508.4 729.1,510 729.3,504.8 729.6,503.9 729.9,500.6 730.1,498.3 730.4,507.5 730.7,503.8 730.9,510.4 731.2,509.4 731.5,504.1 731.7,507 732,504.3 732.3,500.7 732.6,506.5 732.8,503.2 733.1,502.3 733.4,505.8 733.6,505.5 733.9,507 734.2,509.5 734.4,507 734.7,506.2 735,508.8 735.3,504.9 735.5,506.3 735.8,504.9 736.1,511.7 736.3,505.6 736.6,506.9 736.9,502.3 737.1,508.1 737.4,507.3 737.7,504.9 738,508.8 738.2,502.9 738.5,514.5 738.8,510.2 739,494.6 739.3,506.7 739.6,501.2 739.8,502.9 740.1,501 740.4,509.4 740.7,499.7 740.9,506.6 741.2,505.9 741.5,500.7 741.7,497.5 742,503.2 742.3,506.6 742.5,506.7 742.8,506.8 743.1,505.5 743.4,506.6 743.6,507.3 743.9,506.2 744.2,503.8 744.4,507.9 744.7,506.8 745,507 745.2,506.1 745.5,507.3 745.8,506.9 746.1,504.1 746.3,507.9 746.6,508.9 746.9,503.2 747.1,506.4 747.4,506.9 747.7,503.7 747.9,506.8 748.2,506.7 748.5,504.8 748.8,508.1 749,506.8 749.3,504.4 749.6,505.4 749.8,505.3 750.1,509.6 750.4,501.2 750.6,507.7 750.9,503.3 751.2,507.5 751.5,508.9 751.7,507.5 752,502.5 752.3,504.7 752.5,505.3 752.8,504.5 753.1,509.3 753.4,510.2 753.6,509.4 753.9,508.4 754.2,505.3 754.4,504.7 754.7,509.6 755,502.5 755.2,502.6 755.5,507.4 755.8,505.2 756,502.8 756.3,504.7 756.6,505.7 756.9,506.9 757.1,512.2 757.4,505.4 757.7,509.4 757.9,507 758.2,507.3 758.5,508.2 758.8,506.7 759,508.7 759.3,505.2 759.6,506.2 759.8,503.6 760.1,501.7 760.4,506.6 760.6,507.2 760.9,506.8 761.2,507.1 761.5,504.9 761.7,501.4 762,502.8 762.3,505.8 762.5,505.6 762.8,505.2 763.1,508.1 763.3,507.5 763.6,502.9 763.9,507.2 764.1,507.1 764.4,509.1 764.7,506.9 765,502.5 765.2,508.4 765.5,506 765.8,504.1 766,509.4 766.3,506.3 766.6,506.1 766.8,507.3 767.1,505.1 767.4,505.9 767.7,503.6 767.9,505.6 768.2,505 768.5,507.1 768.7,508 769,503.1 769.3,508.6 769.6,505.3 769.8,505.6 770.1,504.7 770.4,506.2 770.6,506.8 770.9,504.7 771.2,505.5 771.4,506.4 771.7,511.7 772,506.7 772.2,505.1 772.5,507.4 772.8,511.6 773.1,510.9 773.3,508.9 773.6,503.2 773.9,513 774.1,506.6 774.4,504.4 774.7,507.8 774.9,502.5 775.2,505.9 775.5,505.4 775.8,508.9 776,506.8 776.3,505.6 776.6,505.7 776.8,504.7 777.1,507.9 777.4,502.7 777.6,504.2 777.9,504.5 778.2,506.2 778.5,508.6 778.7,507 779,502.4 779.3,507.9 779.5,504.5 779.8,511.6 780.1,510.6 780.3,510.1 780.6,507.1 780.9,504.8 781.2,506.4 781.4,508.8 781.7,505.6 782,504 782.2,504 782.5,501.3 782.8,509 783,508.6 783.3,509 783.6,504.3 783.9,500 784.1,501.4 784.4,503.9 784.7,507.6 784.9,509 785.2,507.8 785.5,501.1 785.8,514.8 786,502.9 786.3,508.4 786.6,504 786.8,504 787.1,509.1 787.4,505.4 787.6,501 787.9,501.9 788.2,509.9 788.4,505.2 788.7,507.1 789,503.5 789.3,509.7 789.5,513.1 789.8,506.2 790.1,509.2 790.3,508.7 790.6,503.3 790.9,509.9 791.1,502.7 791.4,505.9 791.7,509.4 792,502.7 792.2,497.9 792.5,503.7 792.8,500.3 793,511.9 793.3,500.5 793.6,504.5 793.9,510.5 794.1,497.2 794.4,510 794.7,509 794.9,505 795.2,509.9 795.5,507.3 795.7,504.9 796,512.6 796.3,496.9 796.5,511.3 796.8,504.5 797.1,502.8 797.4,505.1 797.6,503.3 797.9,509.3 798.2,500.1 798.4,498.4 798.7,505.4 799,507.8 799.2,508.6 799.5,506.7 799.8,503.2 800.1,509 800.3,503.9 800.6,502.2 800.9,509 801.1,507.2 801.4,502.7 801.7,503.5 802,503.6 802.2,506.9 802.5,505.6 802.8,502.9 803,500.9 803.3,501.5 803.6,511.6 803.8,504.5 804.1,504.4 804.4,508.1 804.6,502.5 804.9,506 805.2,508.6 805.5,506.3 805.7,501.4 806,508.3 806.3,508 806.5,502.9 806.8,502.5 807.1,511.1 807.3,504.3 807.6,502.9 807.9,511.7 808.2,505.9 808.4,502.9 808.7,507.3 809,510.9 809.2,510.4 809.5,506.3 809.8,507.4 810.1,511.2 810.3,507.2 810.6,504.8 810.9,506.3 811.1,507.8 811.4,511 811.7,503.9 811.9,510 812.2,502.4 812.5,507.2 812.7,498.9 813,510.1 813.3,503.5 813.6,508.9 813.8,504.8 814.1,515.9 814.4,515.6 814.6,506.7 814.9,500.3 815.2,500 815.4,503.4 815.7,508.3 816,508 816.3,503.8 816.5,510.5 816.8,508.1 817.1,513.3 817.3,516.7 817.6,507.5 817.9,505 818.1,506.8 818.4,502.9 818.7,504.2 819,507.3 819.2,513.8 819.5,500.8 819.8,516.1 820,509 820.3,509.3 820.6,502.8 820.8,507.2 821.1,505.7 821.4,508.7 821.7,503.8 821.9,507.2 822.2,505.7 822.5,511.1 822.7,506.1 823,496.9 823.3,505.9 823.5,505.7 823.8,504.9 824.1,504.6 824.4,505.1 824.6,505 824.9,507.9 825.2,507.5 825.4,508.2 825.7,506.6 826,507 826.2,505.3 826.5,507.2 826.8,506.8 827.1,508.7 827.3,505.8 827.6,507.2 827.9,508.6 828.1,504.3 828.4,498.7 828.7,505.9 828.9,503.1 829.2,506.5 829.5,506.6 829.8,505.9 830,506.5 830.3,505.3 830.6,506.4 830.8,508.8 831.1,507.4 831.4,501.7 831.6,506.5 831.9,503.4 832.2,509.9 832.5,508.5 832.7,505.4 833,504.2 833.3,501.6 833.5,505.3 833.8,501.8 834.1,510.6 834.4,501 834.6,508.4 834.9,504.1 835.2,503.6 835.4,508.6 835.7,504.4 836,507.6 836.2,506.2 836.5,505.8 836.8,506.3 837,505.9 837.3,507 837.6,505.8 837.9,504.4 838.1,504 838.4,508.3 838.7,506.4 838.9,506 839.2,505.4 839.5,505.6 839.8,506.1 840,512.4 840.3,506.3 840.6,501.7 840.8,506.1 841.1,507.1 841.4,506.7 841.6,505.9 841.9,506.6 842.2,509 842.5,501.1 842.7,504.9 843,504.4 843.3,510.2 843.5,505.6 843.8,506.8 844.1,515.4 844.3,505.6 844.6,510 844.9,502.6 845.1,504.3 845.4,512.7 845.7,508 846,496.5 846.2,514.7 846.5,508 846.8,513.5 847,507.7 847.3,506.4 847.6,512.7 847.8,508.3 848.1,507.5 848.4,505.7 848.7,505.8 848.9,507.3 849.2,502.8 849.5,507.5 849.7,506.4 850,503.8 850.3,506.1 850.5,507.7 850.8,506.5 851.1,508.8 851.4,506.5 851.6,504 851.9,506.7 852.2,507.1 852.4,505.5 852.7,507.4 853,506.5 853.2,507.4 853.5,513.9 853.8,501.8 854.1,502.4 854.3,502.1 854.6,510.8 854.9,502.2 855.1,511.2 855.4,504.5 855.7,509.2 855.9,505.4 856.2,511 856.5,507 856.8,510.7 857,505.2 857.3,502.2 857.6,503.4 857.8,506.7 858.1,506.4 858.4,509 858.6,508.6 858.9,505.4 859.2,511.6 859.5,505.1 859.7,509.3 860,512.6 860.3,500 860.5,507.4 860.8,510.5 861.1,507.3 861.4,510.2 861.6,507.2 861.9,504.8 862.2,504.2 862.4,502.9 862.7,497.7 863,507.2 863.2,511.2 863.5,509.3 863.8,505 864,513.5 864.3,505.9 864.6,504.5 864.9,503.6 865.1,509.1 865.4,506.9 865.7,503.7 865.9,506.5 866.2,508.3 866.5,503.2 866.7,509.6 867,510.7 867.3,507.7 867.6,509.6 867.8,506.8 868.1,501.6 868.4,506.4 868.6,510.2 868.9,503.7 869.2,505.7 869.4,511 869.7,511.2 870,508.1 870.3,494.2 870.5,494.2 870.8,510.6 871.1,508 871.3,502.3 871.6,505.9 871.9,495.6 872.1,507.3 872.4,504.3 872.7,506.8 873,505.5 873.2,507.1 873.5,506.3 873.8,506.5 874,508.7 874.3,506.6 874.6,506.5 874.8,508.8 875.1,508.7 875.4,509.4 875.7,507.5 875.9,504.5 876.2,508.7 876.5,506.4 876.7,507.3 877,504.7 877.3,505.5 877.5,508 877.8,507.5 878.1,506.4 878.4,508.2 878.6,507.1 878.9,505.5 879.2,504.8 879.4,504.3 879.7,506.6 880,509.9 880.2,505.6 880.5,506 880.8,505.8 881.1,506.2 881.3,506.2 881.6,503.4 881.9,507 882.1,506.3 882.4,507.3 882.7,508 882.9,508.3 883.2,507.7 883.5,506.8 883.8,504 884,506.9 884.3,511.4 884.6,513.5 884.8,511 885.1,509.5 885.4,507.9 885.6,505 885.9,507.6 886.2,507.8 886.5,501.8 886.7,498.9 887,499.5 887.3,506.2 887.5,499.3 887.8,505.2 888.1,506.1 888.3,509.3 888.6,499.4 888.9,510.4 889.2,505.9 889.4,505.2 889.7,502.8 890,512.5 890.2,506.7 890.5,498.2 890.8,502.4 891,513.8 891.3,510.1 891.6,505.5 891.9,506.1 892.1,503.1 892.4,506.4 892.7,504.5 892.9,506.1 893.2,507.1 893.5,505.1 893.8,506.8 894,503.5 894.3,504.8 894.6,508.9 894.8,509.5 895.1,507.8 895.4,508.8 895.6,508.5 895.9,502.3 896.2,508.3 896.4,505.8 896.7,506.8 897,507.2 897.3,506.3 897.5,505.2 897.8,500.6 898.1,508.3 898.3,506.9 898.6,505 898.9,509.3 899.1,512.3 899.4,507.5 899.7,506.4 900,505 900.2,506.4 900.5,502.8 900.8,506.7 901,507.2 901.3,507.9 901.6,505.6 901.9,514.1 902.1,503.3 902.4,506.3 902.7,508.7 902.9,507 903.2,505.5 903.5,503 903.7,511.1 904,509.5 904.3,508.8 904.5,504.1 904.8,504 905.1,506.4 905.4,506.7 905.6,508.6 905.9,504.6 906.2,506.2 906.4,506.2 906.7,506.5 907,505.9 907.2,504.8 907.5,510.4 907.8,505.8 908.1,507.5 908.3,506.7 908.6,513.9 908.9,504.2 909.1,505.9 909.4,504.7 909.7,511.3 909.9,507.8 910.2,509.8 910.5,502.7 910.8,500.8 911,506 911.3,498.6 911.6,504.8 911.8,502.3 912.1,509.6 912.4,506.9 912.6,510.1 912.9,504.7 913.2,500.9 913.5,505.6 913.7,507.5 914,508.3 914.3,505.1 914.5,504.7 914.8,505.6 915.1,501.4 915.3,498.9 915.6,503.7 915.9,505.9 916.2,506.1 916.4,505.1 916.7,507.4 917,507.1 917.2,507.4 917.5,504.2 917.8,503.1 918,507.8 918.3,508.1 918.6,505.9 918.9,512.7 919.1,501 919.4,503.7 919.7,504.3 919.9,506 920.2,504.2 920.5,511.7 920.8,510.3 921,502.1 921.3,505.9 921.6,504.7 921.8,504.9 922.1,504.8 922.4,501.4 922.6,506.4 922.9,508.2 923.2,506.8 923.4,506.4 923.7,504.3 924,510.4 924.3,504.5 924.5,504.7 924.8,507.3 925.1,505.5 925.3,506.2 925.6,505.2 925.9,508.3 926.1,506.1 926.4,506.2 926.7,508.1 927,507.3 927.2,507.4 927.5,504.8 927.8,508.2 928,508.1 928.3,508.5 928.6,506 928.8,505.2 929.1,510.3 929.4,504.8 929.7,509.4 929.9,500.9 930.2,512.1 930.5,514.9 930.7,502.6 931,510.1 931.3,509.7 931.5,502 931.8,502.3 932.1,510 932.4,504.7 932.6,509.4 932.9,504.8 933.2,505.5 933.4,502.5 933.7,505.8 934,505.1 934.2,504.3 934.5,511 934.8,504.9 935.1,510.4 935.3,507.1 935.6,504.9 935.9,506.8 936.1,506.9 936.4,503.3 936.7,506.9 936.9,503.2 937.2,501 937.5,511 937.8,504.9 938,510 938.3,501.2 938.6,504.7 938.8,518.2 939.1,500.8 939.4,510.2 939.6,515.2 939.9,509.1 940.2,503.1 940.5,511.4 940.7,507 941,501 941.3,505.8 941.5,503.5 941.8,503.2 942.1,506.1 942.4,508 942.6,504.7 942.9,506.4 943.2,505.4 943.4,502.6 943.7,504.8 944,506.1 944.2,507.1 944.5,509 944.8,505.4 945,497.9 945.3,496.1 945.6,505.8 945.9,514.1 946.1,497.7 946.4,504.8 946.7,509.2 946.9,498.9 947.2,510.9 947.5,509.7 947.7,502.5 948,502.3 948.3,501.8 948.6,509.4 948.8,509.4 949.1,512.4 949.4,505.1 949.6,508.5 949.9,513.1 950.2,513.8 950.4,510 950.7,502.7 951,510.7 951.3,503.8 951.5,508.2 951.8,516.8 952.1,506.6 952.3,497.8 952.6,497.3 952.9,504.1 953.1,514.9 953.4,503.8 953.7,500.4 954,503.5 954.2,511.4 954.5,509.3 954.8,510.9 955,512.6 955.3,513.5 955.6,507.9 955.8,501.7 956.1,511.8 956.4,506.9 956.7,508.3 956.9,505.4 957.2,506.9 957.5,503.3 957.7,500.7 958,512.6 958.3,502.7 958.5,512.4 958.8,508.7 959.1,506.5 959.4,507.9 959.6,508.4 959.9,505.6 960.2,500.1 960.4,498 960.7,503.5 961,503.9 961.2,507.6 961.5,499.4 961.8,509.8 962.1,509.4 962.3,509.5 962.6,510.9 962.9,507.4 963.1,503.7 963.4,506.8 963.7,509.6 963.9,504.9 964.2,503.7 964.5,511.2 964.8,514.2 965,507.4 965.3,507.1 965.6,503.2 965.8,502.7 966.1,502.8 966.4,506.5 966.6,505.8 966.9,504 967.2,503.8 967.5,510 967.7,507.4 968,505.7 968.3,505 968.5,509.3 968.8,504.6 969.1,503.9 969.3,510 969.6,499.4 969.9,510.6 970.2,504.1 970.4,504.4 970.7,510.9 971,503 971.2,511.1 971.5,505.9 971.8,505.9 972,510.6 972.3,503.6 972.6,506.4 972.9,511.1 973.1,503.9 973.4,503.4 973.7,507.8 973.9,511.3 974.2,506.3 974.5,509.9 974.8,502.5 975,506.8 975.3,504.7 975.6,513.3 975.8,507.8 976.1,505.9 976.4,512.9 976.6,501.5 976.9,506.2 977.2,504.3 977.4,504.1 977.7,509.6 978,505.1 978.3,509.2 978.5,510 978.8,501.1 979.1,504.9 979.3,504.5 979.6,507.9 979.9,504.8 980.1,506.4 980.4,509.7 980.7,507 981,505.8 981.2,503.3 981.5,503.9 981.8,503.2 982,506.1 982.3,507.5 982.6,507.2 982.9,505 983.1,510.2 983.4,512.6 983.7,508.2 983.9,507.1 984.2,506.7 984.5,508.5 984.7,508.2 985,507 985.3,504.7 985.5,505.7 985.8,502.5 986.1,504.9 986.4,501.8 986.6,507 986.9,500.1 987.2,504 987.4,509 987.7,503.8 988,509.4 988.2,510.1 988.5,501.1 988.8,505.2 989.1,508.4 989.3,508.4 989.6,504.5 989.9,501.4 990.1,512.6 990.4,504.5 990.7,507.6 990.9,509.7 991.2,502.2 991.5,503.8 991.8,499.6 992,505.6 992.3,509 992.6,508.6 992.8,500.4 993.1,503 993.4,509.3 993.6,509.2 993.9,497.9 994.2,511.1 994.5,509.2 994.7,506.4 995,514.5 995.3,512.4 995.5,502.3 995.8,505.8 996.1,505.7 996.3,504.6 996.6,511.9 996.9,510.9 997.2,501.9 997.4,511.2 997.7,502.9 998,502.9 998.2,503.3 998.5,505.2 998.8,507.4 999,507.7 999.3,506.8 999.6,504.4 999.9,503.1 1000.1,504.2 1000.4,509.3 1000.7,507.4 1000.9,506.5 1001.2,512.2 1001.5,503.1 1001.7,507 1002,518.2 1002.3,503.6 1002.6,506.3 1002.8,507.7 1003.1,505.7 1003.4,515.6 1003.6,514.3 1003.9,510.6 1004.2,498.4 1004.4,509 1004.7,508.6 1005,505.2 1005.3,500.8 1005.5,502.9 1005.8,509.7 1006.1,511.5 1006.3,505.2 1006.6,508.1 1006.9,503.6 1007.1,506.1 1007.4,505.3 1007.7,503.6 1008,507.1 1008.2,510.8 1008.5,500.8 1008.8,494.3 1009,504.8 1009.3,503.5 1009.6,504 1009.8,507.3 1010.1,505.9 1010.4,511.7 1010.7,506.3 1010.9,508.1 1011.2,505 1011.5,506.8 1011.7,507.3 1012,507.4 1012.3,508.8 1012.5,506.7 1012.8,508 1013.1,499.8 1013.4,506.5 1013.6,509.1 1013.9,505.7 1014.2,504.4 1014.4,510.2 1014.7,506.1 1015,505.7 1015.2,502 1015.5,508.9 1015.8,503.8 1016.1,506.3 1016.3,506.2 1016.6,511.7 1016.9,501.1 1017.1,507.4 1017.4,502 1017.7,503.1 1017.9,502.1 1018.2,507.4 1018.5,509.9 1018.8,500.1 1019,504 1019.3,506.8 1019.6,506.8 1019.8,508.2 1020.1,507 1020.4,504.4 1020.6,507.2 1020.9,508.4 1021.2,504.4 1021.5,506.7 1021.7,506 1022,507.6 1022.3,511.3 1022.5,501.7 1022.8,512.3 1023.1,507.3 1023.4,514.3 1023.6,501.9 1023.9,501.3 1024.2,505.8 1024.4,507.4 1024.7,500.9 1025,496.3 1025.2,505.4 1025.5,508.3 1025.8,502.2 1026,506.8 1026.3,508.5 1026.6,508.7 1026.9,506.1 1027.1,508.3 1027.4,505.8 1027.7,503.6 1027.9,506.6 1028.2,507.4 1028.5,504.9 1028.8,507.4 1029,508.5 1029.3,508.2 1029.6,516 1029.8,505.9 1030.1,511.8 1030.4,506.9 1030.6,503.3 1030.9,495.6 1031.2,503.2 1031.5,499.9 1031.7,513.9 1032,497.2 1032.3,502.3 1032.5,504.4 1032.8,502.1 1033.1,500.8 1033.3,507.7 1033.6,511.2 1033.9,508.8 1034.2,506 1034.4,504.8 1034.7,507.6 1035,503.8 1035.2,506.3 1035.5,505.7 1035.8,504.2 1036,503.7 1036.3,507.4 1036.6,501.1 1036.8,507.7 1037.1,510.4 1037.4,506.2 1037.7,508.1 1037.9,505.3 1038.2,507.1 1038.5,507 1038.7,505.6 1039,506.6 1039.3,507.5 1039.5,506.6 1039.8,504.9 1040.1,508.5 1040.4,506 1040.6,507.6 1040.9,506.6 1041.2,507.2 1041.4,508.1 1041.7,507.9 1042,505.5 1042.2,515.4 1042.5,509.6 1042.8,505.4 1043.1,508 1043.3,510.5 1043.6,509.1 1043.9,511.2 1044.1,507.2 1044.4,505.7 1044.7,505.4 1045,509.7 1045.2,508 1045.5,503 1045.8,509 1046,512.1 1046.3,509.8 1046.6,512.5 1046.8,510.9 1047.1,511.4 1047.4,503.8 1047.7,514.4 1047.9,508.1 1048.2,499.8 1048.5,510.2 1048.7,500.6 1049,494.8 1049.3,511.4 1049.5,512.7 1049.8,511.5 1050.1,515.5 1050.3,505.3 1050.6,518.8 1050.9,499.4 1051.2,507.1 1051.4,509.1 1051.7,507.1 1052,510.3 1052.2,504.5 1052.5,505.1 1052.8,515.4 1053,508.1 1053.3,504.7 1053.6,502.8 1053.9,510.7 1054.1,518.9 1054.4,513.1 1054.7,503.8 1054.9,514.2 1055.2,511.6 1055.5,508.3 1055.8,505.3 1056,507.8 1056.3,502.8 1056.6,505.7 1056.8,513.1 1057.1,505.6 1057.4,503.3 1057.6,510.4 1057.9,505.9 1058.2,513.3 1058.5,508.2 1058.7,508 1059,510.9 1059.3,502.4 1059.5,510 1059.8,501.7 1060.1,507.9 1060.3,506.2 1060.6,502.8 1060.9,505.9 1061.1,513.2 1061.4,504.2 1061.7,504.6 1062,508 1062.2,503.7 1062.5,499.4 1062.8,503.8 1063,506.2 1063.3,505.5 1063.6,499.9 1063.9,508.5 1064.1,508.3 1064.4,505.2 1064.7,504.7 1064.9,512 1065.2,512 1065.5,510.6 1065.7,504.9 1066,505.7 1066.3,515.8 1066.5,512.3 1066.8,507.5 1067.1,502.9 1067.4,507.6 1067.6,504.3 1067.9,502.9 1068.2,505 1068.4,511.3 1068.7,508.9 1069,502.1 1069.2,505.4 1069.5,507.8 1069.8,506.3 1070.1,507 1070.3,508.4 1070.6,509 1070.9,506 1071.1,502.5 1071.4,509.8 1071.7,507.1 1072,501.5 1072.2,507.5 1072.5,510 1072.8,504.8 1073,503.9 1073.3,502.8 1073.6,503.2 1073.8,503.7 1074.1,505.1 1074.4,510.4 1074.7,502.8 1074.9,504.8 1075.2,506.2 1075.5,502.9 1075.7,505.6 1076,514.4 1076.3,502.9 1076.5,504.2 1076.8,504 1077.1,506.1 1077.3,510.5 1077.6,505.1 1077.9,503.1 1078.2,505.3 1078.4,507.9 1078.7,508 1079,507.4 1079.2,508.1 1079.5,503.9 1079.8,502.6 1080,501.4 1080.3,510.2 1080.6,505.4 1080.9,506.9 1081.1,502.5 1081.4,504.8 1081.7,507.4 1081.9,506.1 1082.2,508.2 1082.5,505.3 1082.8,511.8 1083,513 1083.3,508.8 1083.6,498.6 1083.8,510.6 1084.1,501.6 1084.4,506.5 1084.6,507.8 1084.9,514.2 1085.2,495.9 1085.5,511.4 1085.7,506.8 1086,505.4 1086.3,502.9 1086.5,515.4 1086.8,507.7 1087.1,506.4 1087.3,504.6 1087.6,504.1 1087.9,509 1088.2,508.1 1088.4,505.6 1088.7,506.3 1089,510.1 1089.2,506.9 1089.5,508.3 1089.8,507.7 1090,508.2 1090.3,511.5 1090.6,506.2 1090.8,511.4 1091.1,506.5 1091.4,509.8 1091.7,508.5 1091.9,503.8 1092.2,503.6 1092.5,507.1 1092.7,501.6 1093,510.9 1093.3,514.9 1093.5,501.3 1093.8,509.1 1094.1,503.3 1094.4,503.9 1094.6,502.7 1094.9,505.9 1095.2,502.4 1095.4,504.7 1095.7,509.4 1096,508.5 1096.2,504.1 1096.5,497.3 1096.8,513 1097.1,506 1097.3,504.1 1097.6,511.8 1097.9,506.7 1098.1,503.1 1098.4,510.7 1098.7,503.8 1099,508.8 1099.2,507.3 1099.5,505.4 1099.8,508.2 1100,506.7 1100.3,507 1100.6,508.6 1100.8,508.5 1101.1,505.9 1101.4,506.6 1101.6,507.1 1101.9,508.6 1102.2,509.1 1102.5,506.3 1102.7,509.7 1103,514.3 1103.3,503.7 1103.5,503.3 1103.8,509.1 1104.1,510.5 1104.4,506.4 1104.6,504.2 1104.9,508.3 1105.2,505.4 1105.4,508.2 1105.7,513.5 1106,508.7 1106.2,504.6 1106.5,504.4 1106.8,509.5 1107,510.1 1107.3,505.8 1107.6,508.8 1107.9,508.3 1108.1,503.1 1108.4,509.1 1108.7,503.7 1108.9,506.5 1109.2,508.6 1109.5,511.7 1109.8,505.6 1110,508.2 1110.3,504.1 1110.6,506.9 1110.8,509 1111.1,507.4 1111.4,504.2 1111.6,508.4 1111.9,510.8 1112.2,507.2 1112.5,505 1112.7,507.9 1113,506.9 1113.3,512.2 1113.5,508.5 1113.8,509 1114.1,508.4 1114.3,505.9 1114.6,508.7 1114.9,514.6 1115.2,508.5 1115.4,508.5 1115.7,507.6 1116,508 1116.2,507.9 1116.5,506.6 1116.8,504.5 1117,507.5 1117.3,507.5 1117.6,507.3 1117.8,507.3 1118.1,506.4 1118.4,507.7 1118.7,508.2 1118.9,506 1119.2,508.8 1119.5,497.2 1119.7,501.2 1120,513.2 1120.3,496.2 1120.5,509.5 1120.8,513.8 1121.1,512.3 1121.4,506.3 1121.6,511.4 1121.9,515.1 1122.2,501.4 1122.4,513.4 1122.7,502.5 1123,507.2 1123.2,506.6 1123.5,507.9 1123.8,507.7 1124.1,509.8 1124.3,508.6 1124.6,508 1124.9,506.8 1125.1,507.3 1125.4,506.2 1125.7,505 1126,506.1 1126.2,507.8 1126.5,509.3 1126.8,508 1127,507 1127.3,510.3 1127.6,508.1 1127.8,511 1128.1,513 1128.4,508.8 1128.7,507.3 1128.9,509.6 1129.2,509.8 1129.5,511.9 1129.7,511.8 1130,510.3 1130.3,502.4 1130.5,509.2 1130.8,505.6 1131.1,508.5 1131.3,505.6 1131.6,498 1131.9,506.4 1132.2,510.2 1132.4,510.3 1132.7,512.8 1133,514.2 1133.2,505 1133.5,505.6 1133.8,515.5 1134,514.6 1134.3,510 1134.6,512.2 1134.9,507 1135.1,495.8 1135.4,508.7 1135.7,509.3 1135.9,508.5 1136.2,509 1136.5,507 1136.8,506.3 1137,510.5 1137.3,504.9 1137.6,506.2 1137.8,510.1 1138.1,508.7 1138.4,503.1 1138.6,505.3 1138.9,509.8 1139.2,508.5 1139.5,512.4 1139.7,509 1140,503.3 1140.3,509.1 1140.5,509 1140.8,502.3 1141.1,507.9 1141.3,503.6 1141.6,499.6 1141.9,515.2 1142.1,500.6 1142.4,503.3 1142.7,502.3 1143,505.2 1143.2,509.7 1143.5,504.3 1143.8,508.9 1144,510.9 1144.3,506 1144.6,511.7 1144.9,505.5 1145.1,508.4 1145.4,507.6 1145.7,503.4 1145.9,511.9 1146.2,504.4 1146.5,508.3 1146.7,507.5 1147,506.3 1147.3,505.3 1147.5,510.9 1147.8,504.8 1148.1,504.5 1148.4,501.8 1148.6,506.9 1148.9,504.1 1149.2,509.8 1149.4,513.2 1149.7,505.4 1150,507.6 1150.2,511.5 1150.5,513.3 1150.8,506.9 1151.1,509.8 1151.3,511.1 1151.6,505.7 1151.9,507.6 1152.1,510.8 1152.4,509.3 1152.7,508.7 1153,508.3 1153.2,506.8 1153.5,508.5 1153.8,508.2 1154,508.2 1154.3,504.6 1154.6,509.7 1154.8,507.3 1155.1,510.1 1155.4,512.1 1155.7,506 1155.9,506.3 1156.2,505.7 1156.5,510.9 1156.7,507 1157,509.2 1157.3,508.8 1157.5,510 1157.8,507.8 1158.1,507.2 1158.3,505.7 1158.6,506.5 1158.9,511 1159.2,503.9 1159.4,505.7 1159.7,519.5 1160,508.2 1160.2,500.4 1160.5,513.6 1160.8,509 1161,500.8 1161.3,516.6 1161.6,509.7 1161.9,511.7 1162.1,507.5 1162.4,503.7 1162.7,503.1 1162.9,509.4 1163.2,514 1163.5,509 1163.8,508.6 1164,508.2 1164.3,507.1 1164.6,507.2 1164.8,508.7 1165.1,506.8 1165.4,509.5 1165.6,504.9 1165.9,508.2 1166.2,508.5 1166.5,506.9 1166.7,507.4 1167,506.6 1167.3,507.8 1167.5,506.5 1167.8,507.2 1168.1,508.2 1168.3,508 1168.6,509.6 1168.9,508.9 1169.2,510.5 1169.4,505.6 1169.7,512.6 1170,501.9 1170.2,515.8 1170.5,503.5 1170.8,508.1 1171,505.9 1171.3,506.2 1171.6,514.2 1171.8,508.7 1172.1,499.8 1172.4,507.7 1172.7,506 1172.9,505 1173.2,510.8 1173.5,508.4 1173.7,502.8 1174,507.8 1174.3,504.3 1174.5,504 1174.8,505.7 1175.1,512.2 1175.4,500.7 1175.6,508.3 1175.9,510 1176.2,506.8 1176.4,508 1176.7,507.2 1177,507.4 1177.2,505.7 1177.5,509.2 1177.8,508.7 1178.1,506.9 1178.3,506.2 1178.6,508.5 1178.9,506.9 1179.1,507.8 1179.4,505.8 1179.7,506.9 1180,507.5 1180.2,510.1 1180.5,514.1 1180.8,498.8 1181,505.8 1181.3,502.2 1181.6,506.5 1181.8,507.2 1182.1,517.3 1182.4,503.8 1182.6,506.7 1182.9,510.8 1183.2,504.8 1183.5,505.7 1183.7,504.2 1184,505.5 1184.3,508.1 1184.5,505.6 1184.8,507.3 1185.1,506.8 1185.4,507.7 1185.6,507.5 1185.9,506 1186.2,508.3 1186.4,506.9 1186.7,508.4 1187,506.8 1187.2,506.5 1187.5,507.1 1187.8,508.1 1188,507.8 1188.3,510.1 1188.6,507.9 1188.9,506.6 1189.1,505.3 1189.4,507.2 1189.7,506.4 1189.9,507.4 1190.2,506.5 1190.5,508.5 1190.8,503.9 1191,508.9 1191.3,508.5 1191.6,507.6 1191.8,505.8 1192.1,512.7 1192.4,508.3 1192.6,506 1192.9,508 1193.2,510.3 1193.5,508.6 1193.7,509.3 1194,510 1194.3,503.6 1194.5,508.7 1194.8,508.3 1195.1,509.3 1195.3,508.1 1195.6,508.4 1195.9,502.7 1196.2,502.9 1196.4,507.3 1196.7,508.9 1197,505 1197.2,507.6 1197.5,510.1 1197.8,503.9 1198,510.8 1198.3,506.9 1198.6,510.6 1198.8,508.6 1199.1,505.9 1199.4,505 1199.7,506.4 1199.9,506.5 1200.2,503.6 1200.5,507.1 1200.7,505.7 1201,507.8 1201.3,503.9 1201.6,504.4 1201.8,510.7 1202.1,506.4 1202.4,508.9 1202.6,507.4 1202.9,502.9 1203.2,507.2 1203.4,508.4 1203.7,511.5 1204,508.9 1204.2,506.8 1204.5,507.7 1204.8,504.6 1205.1,509.4 1205.3,505.7 1205.6,508.1 1205.9,511.1 1206.1,503 1206.4,510.1 1206.7,511.1 1206.9,504.5 1207.2,512.6 1207.5,506.4 1207.8,506.9 1208,509.6 1208.3,509.4 1208.6,502.3 1208.8,499.2 1209.1,497 1209.4,503.7 1209.7,500.6 1209.9,509 1210.2,508.3 1210.5,496.5 1210.7,499.6 1211,504.1 1211.3,501 1211.5,501.2 1211.8,502.9 1212.1,499 1212.4,503.5 1212.6,504.2 1212.9,508.6 1213.2,506.4 1213.4,508.3 1213.7,508.5 1214,505.3 1214.2,510 1214.5,504.7 1214.8,511.4 1215,495.5 1215.3,506.4 1215.6,510.7 1215.9,513.1 1216.1,508.8 1216.4,505.8 1216.7,509.3 1216.9,510.9 1217.2,506.2 1217.5,510.4 1217.8,504.7 1218,505.4 1218.3,507 1218.6,505.5 1218.8,506.2 1219.1,501.4 1219.4,502.2 1219.6,508.3 1219.9,509.6 1220.2,510.9 1220.5,506.3 1220.7,504.6 1221,506.4 1221.3,505.2 1221.5,507.8 1221.8,506.1 1222.1,509.3 1222.3,502.8 1222.6,506.3 1222.9,511.6 1223.1,510.1 1223.4,509.9 1223.7,504.1 1224,502.3 1224.2,512.8 1224.5,506 1224.8,503.3 1225,506.6 1225.3,508.3 1225.6,505.7 1225.9,508.6 1226.1,503.2 1226.4,508.1 1226.7,503.4 1226.9,506.8 1227.2,506.3 1227.5,505 1227.7,505.1 1228,506.4 1228.3,507.7 1228.5,505.3 1228.8,506.5 1229.1,507.4 1229.4,508.4 1229.6,506.4 1229.9,508.3 1230.2,508.4 1230.4,504.2 1230.7,508.9 1231,507.2 1231.2,508.7 1231.5,509.1 1231.8,506.2 1232.1,509.8 1232.3,503.6 1232.6,507.2 1232.9,506.8 1233.1,505.5 1233.4,510.9 1233.7,510.5 1234,507.9 1234.2,510.1 1234.5,510.3 1234.8,504.2 1235,503 1235.3,501 1235.6,505.8 1235.8,508.6 1236.1,502.6 1236.4,500 1236.7,507.2 1236.9,506.7 1237.2,508 1237.5,509.2 1237.7,505.8 1238,506.5 1238.3,508.7 1238.5,509.1 1238.8,506.5 1239.1,507.9 1239.3,507.9 1239.6,509.5 1239.9,506.9 1240.2,507.1 1240.4,507.4 1240.7,499.6 1241,511.3 1241.2,506.2 1241.5,500.7 1241.8,509.1 1242.1,510.8 1242.3,514.7 1242.6,512.5 1242.9,506.2 1243.1,507.1 1243.4,509 1243.7,505 1243.9,504.3 1244.2,505 1244.5,502.2 1244.8,510.6 1245,505.9 1245.3,501.3 1245.6,513.2 1245.8,508 1246.1,509.8 1246.4,506.8 1246.6,509.3 1246.9,507.1 1247.2,505.1 1247.4,510.5 1247.7,505.6 1248,502.8 1248.3,506.3 1248.5,504 1248.8,512.7 1249.1,507.7 1249.3,502.3 1249.6,512.4 1249.9,505.7 1250.2,505.1 1250.4,505.4 1250.7,502.3 1251,516.8 1251.2,506.9 1251.5,519.1 1251.8,504.7 1252,495.1 1252.3,505.3 1252.6,510.1 1252.9,502.4 1253.1,519.1 1253.4,514.8 1253.7,516.2 1253.9,510.5 1254.2,498.2 1254.5,512.8 1254.7,502.9 1255,497.8 1255.3,500.2 1255.5,509.6 1255.8,501.5 1256.1,495.1 1256.4,506.2 1256.6,508.8 1256.9,507.9 1257.2,507 1257.4,507.8 1257.7,507.6 1258,506.6 1258.3,508.1 1258.5,505.4 1258.8,508.2 1259.1,507.3 1259.3,507.6 1259.6,507.6 1259.9,506.8 1260.1,506.6 1260.4,507.5 1260.7,505.6 1261,507.8 1261.2,498.2 1261.5,507.3 1261.8,500.4 1262,502.2 1262.3,501.2 1262.6,503 1262.8,510.2 1263.1,500.1 1263.4,500.5 1263.6,505.4 1263.9,508.8 1264.2,504.1 1264.5,508.9 1264.7,510.9 1265,508.3 1265.3,507 1265.5,510.9 1265.8,507.7 1266.1,509.1 1266.4,504.4 1266.6,504.1 1266.9,504.3 1267.2,509.5 1267.4,507.1 1267.7,506.2 1268,507 1268.2,507.6 1268.5,505.6 1268.8,503.7 1269,506.2 1269.3,514.7 1269.6,502.6 1269.9,517 1270.1,509.3 1270.4,505.4 1270.7,511 1270.9,511.9 1271.2,507.6 1271.5,518.7 1271.8,504.4 1272,504.7 1272.3,508.3 1272.6,509.4 1272.8,495 1273.1,508.1 1273.4,505.9 1273.6,506.3 1273.9,507.6 1274.2,506.4 1274.5,505.6 1274.7,506.3 1275,506.7 1275.3,506.9 1275.5,506.9 1275.8,509.1 1276.1,511" fill="none" stroke="#000" stroke-width="1" stroke-linejoin="bevel"/>
<polyline points="1276.1,511 1276.5,507 1277.5,515 1278.3,498 1279,520 1279.6,470 1280.3,400 1280.9,314.4 1281.3,480 1281.8,703 1282.3,560 1283,520 1283.8,470 1285,426.6 1285.6,470 1286.2,440 1286.8,500 1287.5,600 1288.2,692.9 1288.8,500 1289.7,352.5 1290.3,470 1291,540 1292,575.8 1292.6,500 1293.5,480 1294.2,540 1295.3,473 1296,500 1297,517 1297.3,506" fill="none" stroke="#000" stroke-width="1.2" stroke-linejoin="bevel"/>
<polyline points="325.4,507.7 328.1,508.6 330.8,507.6 333.5,508.2 336.2,508.1 338.9,508.1 341.6,507.9 344.3,507.6 347,507.9 349.7,507.8 352.4,507.2 355.1,508.4 357.8,508.3 360.5,508.4 363.2,507.9 365.9,508.1 368.6,507.5 371.3,507.9 374,506.7 376.7,506.8 379.4,507 382.1,507.1 384.8,506.4 387.5,507.4 390.2,508 392.9,507.9 395.6,507.7 398.3,507.5 401,507.9 403.7,507.7 406.4,506.7 409.1,507.1 411.8,507.1 414.5,507.8 417.2,507.7 419.9,508.7 422.6,508.3 425.3,508.8 428,508.8 430.7,508.2 433.4,508.3 436.1,507.5 438.8,507.4 441.5,507 444.2,507.2 446.9,507.5 449.6,507.8 452.3,507.2 455,507 457.7,507.3 460.4,506.9 463.1,507 465.8,506.9 468.5,506.2 471.2,506.5 473.9,506.4 476.6,507.3 479.3,507 482,506.9 484.7,507.2 487.4,508 490.1,508.2 492.8,507.7 495.5,507.8 498.2,507.9 500.9,507.1 503.6,507.6 506.3,506.8 509,507.5 511.7,507.4 514.4,507.7 517.1,508.2 519.8,508.2 522.5,508.2 525.2,507.5 527.9,507.7 530.6,506.7 533.3,506.2 536,506.7 538.7,506.5 541.4,506 544.1,506 546.8,506.6 549.5,507 552.2,507.6 554.9,507.2 557.6,507.3 560.3,507.1 563,507.1 565.7,507.2 568.4,507 571.1,507.3 573.8,507.2 576.5,506.9 579.2,507.5 581.9,507.7 584.6,507.4 587.3,507.7 590,507.6 592.7,508.3 595.4,507.5 598.1,507.2 600.8,507 603.5,506.8 606.2,507.3 608.9,506.5 611.6,507.1 614.3,506.9 617,507.1 619.7,507.3 622.4,507 625.1,506.7 627.8,506.2 630.5,506.4 633.2,505.6 635.9,506.2 638.6,506.6 641.3,507.1 644,507.2 646.7,507.6 649.4,507.8 652.1,508 654.8,507.1 657.5,506.2 660.2,506.1 662.9,506.8 665.6,506.7 668.3,506.8 671,506.4 673.7,507.1 676.4,506.9 679.1,506.9 681.8,506.6 684.5,506.2 687.2,507.5 689.9,506.7 692.6,506.6 695.3,505.8 698,504.8 700.7,505.1 703.4,505.6 706.1,505.7 708.8,505.6 711.5,507 714.2,505.7 716.9,507 719.6,506.1 722.3,506.8 725,505.8 727.7,505.9 730.4,506.6 733.1,506.1 735.8,506.6 738.5,507.1 741.2,507.4 743.9,506.8 746.6,507.3 749.3,507.1 752,506.8 754.7,506.8 757.4,506.4 760.1,506.3 762.8,506.1 765.5,505.5 768.2,505.2 770.9,506 773.6,506.6 776.3,506.5 779,506 781.7,506.3 784.4,505.7 787.1,506.6 789.8,505 792.5,505.6 795.2,505.2 797.9,504.8 800.6,505.8 803.3,506 806,506.1 808.7,506.8 811.4,506.9 814.1,506.8 816.8,507.1 819.5,506.5 822.2,506.3 824.9,506.3 827.6,506.5 830.3,505.9 833,506.7 835.7,506.4 838.4,506.6 841.1,507 843.8,506.4 846.5,506.3 849.2,506.2 851.9,505.8 854.6,505.5 857.3,505.5 860,505.3 862.7,505 865.4,505 868.1,506 870.8,506.1 873.5,506.1 876.2,507.2 878.9,506.3 881.6,506.4 884.3,506.5 887,506.4 889.7,506.3 892.4,505.7 895.1,505.9 897.8,506.9 900.5,506.8 903.2,507.1 905.9,506.9 908.6,507 911.3,506.5 914,507.7 916.7,507.6 919.4,505.4 922.1,505.5 924.8,505.5 927.5,506 930.2,505.4 932.9,505.9 935.6,505.8 938.3,506.2 941,506 943.7,506.1 946.4,505.7 949.1,505.7 951.8,505.5 954.5,505 957.2,505.8 959.9,505.5 962.6,506.7 965.3,505.5 968,506.1 970.7,506.9 973.4,507.1 976.1,507.2 978.8,506.9 981.5,506.5 984.2,506.2 986.9,506.2 989.6,506.8 992.3,506.5 995,505.8 997.7,507 1000.4,506.8 1003.1,506.6 1005.8,506.9 1008.5,506 1011.2,506.4 1013.9,506.3 1016.6,505.5 1019.3,505.3 1022,505.5 1024.7,505.7 1027.4,505.4 1030.1,506.6 1032.8,506.5 1035.5,506.6 1038.2,507.1 1040.9,506.8 1043.6,507.2 1046.3,507 1049,506.9 1051.7,506.5 1054.4,506.3 1057.1,506.4 1059.8,506.9 1062.5,507.2 1065.2,508.6 1067.9,507.5 1070.6,508 1073.3,507.9 1076,507.7 1078.7,507.8 1081.4,506.8 1084.1,507 1086.8,506.7 1089.5,506.6 1092.2,506.7 1094.9,507.4 1097.6,507.3 1100.3,507.7 1103,507.8 1105.7,507.9 1108.4,507.4 1111.1,506.9 1113.8,507 1116.5,507.9 1119.2,507.2 1121.9,508 1124.6,507.8 1127.3,508.3 1130,508.3 1132.7,508.9 1135.4,508.7 1138.1,508.7 1140.8,508.7 1143.5,508 1146.2,507.8 1148.9,507.2 1151.6,507.6 1154.3,507.6 1157,507.9 1159.7,507.8 1162.4,507.9 1165.1,507.7 1167.8,507.8 1170.5,507.8 1173.2,506.8 1175.9,506.3 1178.6,507 1181.3,506.3 1184,506.8 1186.7,506.8 1189.4,506.8 1192.1,506.9 1194.8,506.9 1197.5,507.5 1200.2,507.6 1202.9,506.9 1205.6,507.7 1208.3,507.4 1211,507.4 1213.7,507.2 1216.4,507 1219.1,507.5 1221.8,507.2 1224.5,507.5 1227.2,508.3 1229.9,508.1 1232.6,507.6 1235.3,508.1 1238,507.6 1240.7,506.4 1243.4,506.9 1246.1,506.4 1248.8,506.1 1251.5,506.4 1254.2,506.6 1256.9,506.7 1259.6,507.3 1262.3,507.5 1265,506.7 1267.7,506.1 1270.4,506.9 1273.1,506.6 1276.7,505.8 1277.8,498 1278.8,490.5 1280,505 1281.3,525 1282.6,537.6 1283.6,510 1284.6,480 1285.6,470 1286.5,490 1287.4,515 1288.2,527.4 1289.2,505 1290.2,480 1291.2,470 1292.4,478 1293.6,490 1295.8,498" fill="none" stroke="rgb(215,215,0)" stroke-width="2.4" stroke-linejoin="round"/>
<g stroke="rgb(0,139,139)" stroke-width="1.1" stroke-opacity=".75" fill="none">
<line x1="1345.9" y1="110.6" x2="1345.9" y2="506.6"/>
<line x1="1329.5" y1="506.6" x2="1362" y2="506.6"/><line x1="1329.5" y1="111" x2="1362" y2="111"/>
<line x1="1345.9" y1="506.6" x2="1354.2" y2="506.6"/>
<line x1="1345.9" y1="467" x2="1354.2" y2="467"/>
<line x1="1345.9" y1="427.4" x2="1354.2" y2="427.4"/>
<line x1="1345.9" y1="387.8" x2="1354.2" y2="387.8"/>
<line x1="1345.9" y1="348.2" x2="1354.2" y2="348.2"/>
<line x1="1345.9" y1="308.6" x2="1354.2" y2="308.6"/>
<line x1="1345.9" y1="269" x2="1354.2" y2="269"/>
<line x1="1345.9" y1="229.4" x2="1354.2" y2="229.4"/>
<line x1="1345.9" y1="189.8" x2="1354.2" y2="189.8"/>
<line x1="1345.9" y1="150.2" x2="1354.2" y2="150.2"/>
<line x1="1345.9" y1="110.6" x2="1354.2" y2="110.6"/>
</g>
<g stroke="rgb(190,190,190)" stroke-width="2.4" fill="none"><line x1="211.6" y1="486.7" x2="211.6" y2="526.4"/><line x1="204.4" y1="486.7" x2="218.7" y2="486.7"/><line x1="204.4" y1="526.4" x2="218.7" y2="526.4"/></g>
<circle cx="211.6" cy="506.6" r="4.1" fill="#000"/>
<g font-size="28px">
<text x="163.4" y="943.9" text-anchor="middle">-10</text>
<text x="325.4" y="943.9" text-anchor="middle">0</text>
<text x="487.4" y="943.9" text-anchor="middle">10</text>
<text x="649.4" y="943.9" text-anchor="middle">20</text>
<text x="811.4" y="943.9" text-anchor="middle">30</text>
<text x="973.4" y="943.9" text-anchor="middle">40</text>
<text x="1135.4" y="943.9" text-anchor="middle">50</text>
<text x="1297.4" y="943.9" text-anchor="middle">60</text>
<text x="1459.4" y="943.9" text-anchor="middle">70</text>
<text x="142.4" y="912.2" text-anchor="end">-400</text>
<text x="142.4" y="813.2" text-anchor="end">-300</text>
<text x="142.4" y="714.2" text-anchor="end">-200</text>
<text x="142.4" y="615.2" text-anchor="end">-100</text>
<text x="142.4" y="516.2" text-anchor="end">0</text>
<text x="142.4" y="417.2" text-anchor="end">100</text>
<text x="142.4" y="318.2" text-anchor="end">200</text>
<text x="142.4" y="219.2" text-anchor="end">300</text>
<text x="142.4" y="120.2" text-anchor="end">400</text>
<text x="1565.3" y="186" text-anchor="end">1012.0</text>
<text x="1565.3" y="252" text-anchor="end">1011.6</text>
<text x="1565.3" y="318.1" text-anchor="end">1011.2</text>
<text x="1565.3" y="384.1" text-anchor="end">1010.8</text>
<text x="1565.3" y="450.2" text-anchor="end">1010.4</text>
<text x="1551.5" y="581.9" text-anchor="end">1000</text>
<text x="1551.5" y="648" text-anchor="end">500</text>
<text x="1551.5" y="714.2" text-anchor="end">0</text>
<text x="1551.5" y="780.4" text-anchor="end">-500</text>
<text x="1551.5" y="846.5" text-anchor="end">-1000</text>
<text x="1551.5" y="912.7" text-anchor="end">-1500</text>
</g>
<text x="811.5" y="1005.8" font-size="48px" text-anchor="middle">Time [min] from 2025-08-25 06:01:00 UTC</text>
<text transform="translate(59.4,506.5) rotate(-90)" font-size="48px" text-anchor="middle">Obs’d Gravity [nm/s<tspan dy="-17" font-size="33.6px">2</tspan><tspan dy="17">]</tspan></text>
<text transform="translate(1626.6,308.8) rotate(-90)" font-size="48px" text-anchor="middle">Pressure [hPa]</text>
<text transform="translate(1613,703) rotate(-90)" font-size="48px" text-anchor="middle">Tide [nm/s<tspan dy="-17" font-size="33.6px">2</tspan><tspan dy="17">]</tspan></text>
<text class="b" x="996.5" y="82" font-size="32.2px" text-anchor="middle">SCG_054 gravimeter Onsala Space Observatory, Sweden</text>
<text class="b" x="1315" y="154.3" font-size="24px" text-anchor="end">Stand-in barom. 20m</text>
<text class="b" x="192.3" y="887.8" font-size="27.8px">The latest 1-hour, 1-second sampling</text>
<text class="b" x="1430.3" y="887.8" font-size="27.8px" text-anchor="end">End at 2025-08-25 07:00:59 UTC</text>
<text transform="translate(1386.9,308.5) rotate(-90)" font-size="24px" text-anchor="middle">1 DIV = 1 hPa/h</text>
<text transform="translate(1426.8,308.5) rotate(-90)" font-size="24px" text-anchor="middle">average = -0.0159</text>
<text transform="translate(243.8,506.8) rotate(-90)" font-size="24px" text-anchor="middle">Typical noise level</text>
<rect x="167" y="18.5" width="372.5" height="163" fill="#fff" stroke="rgb(115,115,115)" stroke-width="1"/>
<g font-size="24px">
<text x="279.6" y="48">Pressure</text>
<text x="279.6" y="78">dP/dt</text>
<text x="279.6" y="108.6">Residual</text>
<text x="279.6" y="139">... last 10 min.</text>
<text x="279.6" y="170">Theor.Tide</text>
</g>
<line x1="204" y1="39.5" x2="260.2" y2="39.5" stroke="rgb(0,0,255)" stroke-width="0.65"/><circle cx="232.1" cy="39.5" r="4.2" fill="rgb(0,0,255)"/>
<line x1="204" y1="69.5" x2="260.2" y2="69.5" stroke="rgb(0,205,205)" stroke-width="0.65"/><circle cx="232.1" cy="69.5" r="4.2" fill="rgb(0,200,200)"/>
<line x1="204" y1="100.1" x2="260.2" y2="100.1" stroke="#000" stroke-width="2.6"/>
<line x1="204" y1="130.5" x2="260.2" y2="130.5" stroke="rgb(190,190,190)" stroke-width="2.8"/>
<line x1="204" y1="161.5" x2="260.2" y2="161.5" stroke="rgb(255,0,0)" stroke-width="0.65"/><circle cx="232.1" cy="161.5" r="4.2" fill="rgb(255,0,0)"/>
</svg></body></html>
